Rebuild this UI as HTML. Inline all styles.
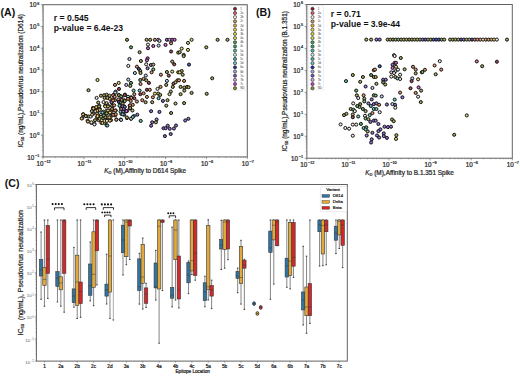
<!DOCTYPE html>
<html><head><meta charset="utf-8"><style>
html,body{margin:0;padding:0;background:#fff;width:520px;height:376px;overflow:hidden}
text.t{stroke:#222;stroke-width:0.22px}
svg{display:block}
text{font-family:"Liberation Sans", sans-serif}
</style></head><body>
<svg width="520" height="376" viewBox="0 0 520 376" font-family='"Liberation Sans", sans-serif'>
<rect width="520" height="376" fill="#ffffff"/>
<defs>
<radialGradient id="gdr"><stop offset="0" stop-color="#ba7d83"/><stop offset="0.5" stop-color="#953741"/><stop offset="1" stop-color="#8c2630"/></radialGradient>
<radialGradient id="grd"><stop offset="0" stop-color="#e5a0a6"/><stop offset="0.5" stop-color="#d76e77"/><stop offset="1" stop-color="#d4616b"/></radialGradient>
<radialGradient id="gwh"><stop offset="0" stop-color="#f4f0ea"/><stop offset="0.5" stop-color="#eee8df"/><stop offset="1" stop-color="#ece6dc"/></radialGradient>
<radialGradient id="gtn"><stop offset="0" stop-color="#dfc29d"/><stop offset="0.5" stop-color="#cda268"/><stop offset="1" stop-color="#c99a5b"/></radialGradient>
<radialGradient id="gor"><stop offset="0" stop-color="#e5af91"/><stop offset="0.5" stop-color="#d78557"/><stop offset="1" stop-color="#d47a48"/></radialGradient>
<radialGradient id="gye"><stop offset="0" stop-color="#f0e294"/><stop offset="0.5" stop-color="#e8d35a"/><stop offset="1" stop-color="#e6cf4c"/></radialGradient>
<radialGradient id="gyg"><stop offset="0" stop-color="#dde2a1"/><stop offset="0.5" stop-color="#cbd36f"/><stop offset="1" stop-color="#c6cf63"/></radialGradient>
<radialGradient id="ggr"><stop offset="0" stop-color="#95c296"/><stop offset="0.5" stop-color="#5da25e"/><stop offset="1" stop-color="#4f9a50"/></radialGradient>
<radialGradient id="gte"><stop offset="0" stop-color="#91d1cc"/><stop offset="0.5" stop-color="#56b9b1"/><stop offset="1" stop-color="#47b3aa"/></radialGradient>
<radialGradient id="glb"><stop offset="0" stop-color="#cbdcf1"/><stop offset="0.5" stop-color="#b0c9ea"/><stop offset="1" stop-color="#a9c4e8"/></radialGradient>
<radialGradient id="gbl"><stop offset="0" stop-color="#7d85c5"/><stop offset="0.5" stop-color="#3843a7"/><stop offset="1" stop-color="#27339f"/></radialGradient>
<radialGradient id="gpu"><stop offset="0" stop-color="#ad96da"/><stop offset="0.5" stop-color="#815ec7"/><stop offset="1" stop-color="#7650c2"/></radialGradient>
<radialGradient id="glv"><stop offset="0" stop-color="#e4c9ee"/><stop offset="0.5" stop-color="#d6ace4"/><stop offset="1" stop-color="#d2a5e2"/></radialGradient>
<radialGradient id="gmg"><stop offset="0" stop-color="#da8eda"/><stop offset="0.5" stop-color="#c751c7"/><stop offset="1" stop-color="#c242c2"/></radialGradient>
<radialGradient id="gol"><stop offset="0" stop-color="#c1be8a"/><stop offset="0.5" stop-color="#a09b4c"/><stop offset="1" stop-color="#98923c"/></radialGradient>
<radialGradient id="gog"><stop offset="0" stop-color="#a9b185"/><stop offset="0.5" stop-color="#7b8744"/><stop offset="1" stop-color="#6f7d34"/></radialGradient>
<radialGradient id="ggo"><stop offset="0" stop-color="#e6ca91"/><stop offset="0.5" stop-color="#d9ad57"/><stop offset="1" stop-color="#d6a648"/></radialGradient>
</defs>
<g stroke="#555555" fill="none">
<line x1="40.9" y1="4.7" x2="43.1" y2="4.7" stroke-width="0.6"/>
<line x1="41.9" y1="19.9" x2="43.1" y2="19.9" stroke-width="0.4"/>
<line x1="41.9" y1="16.07" x2="43.1" y2="16.07" stroke-width="0.4"/>
<line x1="41.9" y1="13.35" x2="43.1" y2="13.35" stroke-width="0.4"/>
<line x1="41.9" y1="11.25" x2="43.1" y2="11.25" stroke-width="0.4"/>
<line x1="41.9" y1="9.52" x2="43.1" y2="9.52" stroke-width="0.4"/>
<line x1="41.9" y1="8.07" x2="43.1" y2="8.07" stroke-width="0.4"/>
<line x1="41.9" y1="6.81" x2="43.1" y2="6.81" stroke-width="0.4"/>
<line x1="41.9" y1="5.69" x2="43.1" y2="5.69" stroke-width="0.4"/>
<line x1="40.9" y1="26.44" x2="43.1" y2="26.44" stroke-width="0.6"/>
<line x1="41.9" y1="41.64" x2="43.1" y2="41.64" stroke-width="0.4"/>
<line x1="41.9" y1="37.81" x2="43.1" y2="37.81" stroke-width="0.4"/>
<line x1="41.9" y1="35.1" x2="43.1" y2="35.1" stroke-width="0.4"/>
<line x1="41.9" y1="32.99" x2="43.1" y2="32.99" stroke-width="0.4"/>
<line x1="41.9" y1="31.27" x2="43.1" y2="31.27" stroke-width="0.4"/>
<line x1="41.9" y1="29.81" x2="43.1" y2="29.81" stroke-width="0.4"/>
<line x1="41.9" y1="28.55" x2="43.1" y2="28.55" stroke-width="0.4"/>
<line x1="41.9" y1="27.44" x2="43.1" y2="27.44" stroke-width="0.4"/>
<line x1="40.9" y1="48.19" x2="43.1" y2="48.19" stroke-width="0.6"/>
<line x1="41.9" y1="63.38" x2="43.1" y2="63.38" stroke-width="0.4"/>
<line x1="41.9" y1="59.55" x2="43.1" y2="59.55" stroke-width="0.4"/>
<line x1="41.9" y1="56.84" x2="43.1" y2="56.84" stroke-width="0.4"/>
<line x1="41.9" y1="54.73" x2="43.1" y2="54.73" stroke-width="0.4"/>
<line x1="41.9" y1="53.01" x2="43.1" y2="53.01" stroke-width="0.4"/>
<line x1="41.9" y1="51.55" x2="43.1" y2="51.55" stroke-width="0.4"/>
<line x1="41.9" y1="50.29" x2="43.1" y2="50.29" stroke-width="0.4"/>
<line x1="41.9" y1="49.18" x2="43.1" y2="49.18" stroke-width="0.4"/>
<line x1="40.9" y1="69.93" x2="43.1" y2="69.93" stroke-width="0.6"/>
<line x1="41.9" y1="85.13" x2="43.1" y2="85.13" stroke-width="0.4"/>
<line x1="41.9" y1="81.3" x2="43.1" y2="81.3" stroke-width="0.4"/>
<line x1="41.9" y1="78.58" x2="43.1" y2="78.58" stroke-width="0.4"/>
<line x1="41.9" y1="76.47" x2="43.1" y2="76.47" stroke-width="0.4"/>
<line x1="41.9" y1="74.75" x2="43.1" y2="74.75" stroke-width="0.4"/>
<line x1="41.9" y1="73.3" x2="43.1" y2="73.3" stroke-width="0.4"/>
<line x1="41.9" y1="72.04" x2="43.1" y2="72.04" stroke-width="0.4"/>
<line x1="41.9" y1="70.92" x2="43.1" y2="70.92" stroke-width="0.4"/>
<line x1="40.9" y1="91.67" x2="43.1" y2="91.67" stroke-width="0.6"/>
<line x1="41.9" y1="106.87" x2="43.1" y2="106.87" stroke-width="0.4"/>
<line x1="41.9" y1="103.04" x2="43.1" y2="103.04" stroke-width="0.4"/>
<line x1="41.9" y1="100.32" x2="43.1" y2="100.32" stroke-width="0.4"/>
<line x1="41.9" y1="98.22" x2="43.1" y2="98.22" stroke-width="0.4"/>
<line x1="41.9" y1="96.5" x2="43.1" y2="96.5" stroke-width="0.4"/>
<line x1="41.9" y1="95.04" x2="43.1" y2="95.04" stroke-width="0.4"/>
<line x1="41.9" y1="93.78" x2="43.1" y2="93.78" stroke-width="0.4"/>
<line x1="41.9" y1="92.67" x2="43.1" y2="92.67" stroke-width="0.4"/>
<line x1="40.9" y1="113.41" x2="43.1" y2="113.41" stroke-width="0.6"/>
<line x1="41.9" y1="128.61" x2="43.1" y2="128.61" stroke-width="0.4"/>
<line x1="41.9" y1="124.78" x2="43.1" y2="124.78" stroke-width="0.4"/>
<line x1="41.9" y1="122.07" x2="43.1" y2="122.07" stroke-width="0.4"/>
<line x1="41.9" y1="119.96" x2="43.1" y2="119.96" stroke-width="0.4"/>
<line x1="41.9" y1="118.24" x2="43.1" y2="118.24" stroke-width="0.4"/>
<line x1="41.9" y1="116.78" x2="43.1" y2="116.78" stroke-width="0.4"/>
<line x1="41.9" y1="115.52" x2="43.1" y2="115.52" stroke-width="0.4"/>
<line x1="41.9" y1="114.41" x2="43.1" y2="114.41" stroke-width="0.4"/>
<line x1="40.9" y1="135.16" x2="43.1" y2="135.16" stroke-width="0.6"/>
<line x1="41.9" y1="150.35" x2="43.1" y2="150.35" stroke-width="0.4"/>
<line x1="41.9" y1="146.53" x2="43.1" y2="146.53" stroke-width="0.4"/>
<line x1="41.9" y1="143.81" x2="43.1" y2="143.81" stroke-width="0.4"/>
<line x1="41.9" y1="141.7" x2="43.1" y2="141.7" stroke-width="0.4"/>
<line x1="41.9" y1="139.98" x2="43.1" y2="139.98" stroke-width="0.4"/>
<line x1="41.9" y1="138.53" x2="43.1" y2="138.53" stroke-width="0.4"/>
<line x1="41.9" y1="137.26" x2="43.1" y2="137.26" stroke-width="0.4"/>
<line x1="41.9" y1="136.15" x2="43.1" y2="136.15" stroke-width="0.4"/>
<line x1="40.9" y1="156.9" x2="43.1" y2="156.9" stroke-width="0.6"/>
<line x1="43.1" y1="156.9" x2="43.1" y2="159.1" stroke-width="0.6"/>
<line x1="55.39" y1="156.9" x2="55.39" y2="158.1" stroke-width="0.4"/>
<line x1="62.59" y1="156.9" x2="62.59" y2="158.1" stroke-width="0.4"/>
<line x1="67.69" y1="156.9" x2="67.69" y2="158.1" stroke-width="0.4"/>
<line x1="71.65" y1="156.9" x2="71.65" y2="158.1" stroke-width="0.4"/>
<line x1="74.88" y1="156.9" x2="74.88" y2="158.1" stroke-width="0.4"/>
<line x1="77.61" y1="156.9" x2="77.61" y2="158.1" stroke-width="0.4"/>
<line x1="79.98" y1="156.9" x2="79.98" y2="158.1" stroke-width="0.4"/>
<line x1="82.07" y1="156.9" x2="82.07" y2="158.1" stroke-width="0.4"/>
<line x1="83.94" y1="156.9" x2="83.94" y2="159.1" stroke-width="0.6"/>
<line x1="96.23" y1="156.9" x2="96.23" y2="158.1" stroke-width="0.4"/>
<line x1="103.43" y1="156.9" x2="103.43" y2="158.1" stroke-width="0.4"/>
<line x1="108.53" y1="156.9" x2="108.53" y2="158.1" stroke-width="0.4"/>
<line x1="112.49" y1="156.9" x2="112.49" y2="158.1" stroke-width="0.4"/>
<line x1="115.72" y1="156.9" x2="115.72" y2="158.1" stroke-width="0.4"/>
<line x1="118.45" y1="156.9" x2="118.45" y2="158.1" stroke-width="0.4"/>
<line x1="120.82" y1="156.9" x2="120.82" y2="158.1" stroke-width="0.4"/>
<line x1="122.91" y1="156.9" x2="122.91" y2="158.1" stroke-width="0.4"/>
<line x1="124.78" y1="156.9" x2="124.78" y2="159.1" stroke-width="0.6"/>
<line x1="137.07" y1="156.9" x2="137.07" y2="158.1" stroke-width="0.4"/>
<line x1="144.27" y1="156.9" x2="144.27" y2="158.1" stroke-width="0.4"/>
<line x1="149.37" y1="156.9" x2="149.37" y2="158.1" stroke-width="0.4"/>
<line x1="153.33" y1="156.9" x2="153.33" y2="158.1" stroke-width="0.4"/>
<line x1="156.56" y1="156.9" x2="156.56" y2="158.1" stroke-width="0.4"/>
<line x1="159.29" y1="156.9" x2="159.29" y2="158.1" stroke-width="0.4"/>
<line x1="161.66" y1="156.9" x2="161.66" y2="158.1" stroke-width="0.4"/>
<line x1="163.75" y1="156.9" x2="163.75" y2="158.1" stroke-width="0.4"/>
<line x1="165.62" y1="156.9" x2="165.62" y2="159.1" stroke-width="0.6"/>
<line x1="177.91" y1="156.9" x2="177.91" y2="158.1" stroke-width="0.4"/>
<line x1="185.11" y1="156.9" x2="185.11" y2="158.1" stroke-width="0.4"/>
<line x1="190.21" y1="156.9" x2="190.21" y2="158.1" stroke-width="0.4"/>
<line x1="194.17" y1="156.9" x2="194.17" y2="158.1" stroke-width="0.4"/>
<line x1="197.4" y1="156.9" x2="197.4" y2="158.1" stroke-width="0.4"/>
<line x1="200.13" y1="156.9" x2="200.13" y2="158.1" stroke-width="0.4"/>
<line x1="202.5" y1="156.9" x2="202.5" y2="158.1" stroke-width="0.4"/>
<line x1="204.59" y1="156.9" x2="204.59" y2="158.1" stroke-width="0.4"/>
<line x1="206.46" y1="156.9" x2="206.46" y2="159.1" stroke-width="0.6"/>
<line x1="218.75" y1="156.9" x2="218.75" y2="158.1" stroke-width="0.4"/>
<line x1="225.95" y1="156.9" x2="225.95" y2="158.1" stroke-width="0.4"/>
<line x1="231.05" y1="156.9" x2="231.05" y2="158.1" stroke-width="0.4"/>
<line x1="235.01" y1="156.9" x2="235.01" y2="158.1" stroke-width="0.4"/>
<line x1="238.24" y1="156.9" x2="238.24" y2="158.1" stroke-width="0.4"/>
<line x1="240.97" y1="156.9" x2="240.97" y2="158.1" stroke-width="0.4"/>
<line x1="243.34" y1="156.9" x2="243.34" y2="158.1" stroke-width="0.4"/>
<line x1="245.43" y1="156.9" x2="245.43" y2="158.1" stroke-width="0.4"/>
<line x1="247.3" y1="156.9" x2="247.3" y2="159.1" stroke-width="0.6"/>
</g>
<text class="t" transform="translate(39.4,7.4) scale(1.0,1)" font-size="6.3" text-anchor="end" fill="#2a2a2a">10<tspan font-size="3.78" dx="0.8" dy="-2.77">6</tspan></text>
<text class="t" transform="translate(39.4,29.14) scale(1.0,1)" font-size="6.3" text-anchor="end" fill="#2a2a2a">10<tspan font-size="3.78" dx="0.8" dy="-2.77">5</tspan></text>
<text class="t" transform="translate(39.4,50.89) scale(1.0,1)" font-size="6.3" text-anchor="end" fill="#2a2a2a">10<tspan font-size="3.78" dx="0.8" dy="-2.77">4</tspan></text>
<text class="t" transform="translate(39.4,72.63) scale(1.0,1)" font-size="6.3" text-anchor="end" fill="#2a2a2a">10<tspan font-size="3.78" dx="0.8" dy="-2.77">3</tspan></text>
<text class="t" transform="translate(39.4,94.37) scale(1.0,1)" font-size="6.3" text-anchor="end" fill="#2a2a2a">10<tspan font-size="3.78" dx="0.8" dy="-2.77">2</tspan></text>
<text class="t" transform="translate(39.4,116.11) scale(1.0,1)" font-size="6.3" text-anchor="end" fill="#2a2a2a">10<tspan font-size="3.78" dx="0.8" dy="-2.77">1</tspan></text>
<text class="t" transform="translate(39.4,137.86) scale(1.0,1)" font-size="6.3" text-anchor="end" fill="#2a2a2a">10<tspan font-size="3.78" dx="0.8" dy="-2.77">0</tspan></text>
<text class="t" transform="translate(39.4,159.6) scale(1.0,1)" font-size="6.3" text-anchor="end" fill="#2a2a2a">10<tspan font-size="3.78" dx="0.8" dy="-2.77">−1</tspan></text>
<text class="t" transform="translate(43.6,165.7) scale(1.0,1)" font-size="6.3" text-anchor="middle" fill="#2a2a2a">10<tspan font-size="3.78" dx="0.8" dy="-2.77">−12</tspan></text>
<text class="t" transform="translate(84.44,165.7) scale(1.0,1)" font-size="6.3" text-anchor="middle" fill="#2a2a2a">10<tspan font-size="3.78" dx="0.8" dy="-2.77">−11</tspan></text>
<text class="t" transform="translate(125.28,165.7) scale(1.0,1)" font-size="6.3" text-anchor="middle" fill="#2a2a2a">10<tspan font-size="3.78" dx="0.8" dy="-2.77">−10</tspan></text>
<text class="t" transform="translate(166.12,165.7) scale(1.0,1)" font-size="6.3" text-anchor="middle" fill="#2a2a2a">10<tspan font-size="3.78" dx="0.8" dy="-2.77">−9</tspan></text>
<text class="t" transform="translate(206.96,165.7) scale(1.0,1)" font-size="6.3" text-anchor="middle" fill="#2a2a2a">10<tspan font-size="3.78" dx="0.8" dy="-2.77">−8</tspan></text>
<text class="t" transform="translate(247.8,165.7) scale(1.0,1)" font-size="6.3" text-anchor="middle" fill="#2a2a2a">10<tspan font-size="3.78" dx="0.8" dy="-2.77">−7</tspan></text>
<g stroke="#161616" stroke-width="1.0">
<circle cx="127" cy="39.8" r="1.55" fill="url(#gol)"/>
<circle cx="146.6" cy="39.8" r="1.55" fill="url(#gol)"/>
<circle cx="150.2" cy="39.8" r="1.55" fill="url(#gol)"/>
<circle cx="154.9" cy="39.8" r="1.55" fill="url(#gor)"/>
<circle cx="158.2" cy="39.8" r="1.55" fill="url(#glv)"/>
<circle cx="159.5" cy="40.9" r="1.55" fill="url(#glb)"/>
<circle cx="166.9" cy="39.8" r="1.55" fill="url(#gpu)"/>
<circle cx="169.5" cy="39.8" r="1.55" fill="url(#glv)"/>
<circle cx="172.2" cy="39.8" r="1.55" fill="url(#gmg)"/>
<circle cx="174.6" cy="39.8" r="1.55" fill="url(#gmg)"/>
<circle cx="131" cy="47.3" r="1.55" fill="url(#ggr)"/>
<circle cx="139.6" cy="52.2" r="1.55" fill="url(#gol)"/>
<circle cx="148" cy="44.6" r="1.55" fill="url(#gwh)"/>
<circle cx="148" cy="48.2" r="1.55" fill="url(#gmg)"/>
<circle cx="153.3" cy="46" r="1.55" fill="url(#gmg)"/>
<circle cx="158.6" cy="45.6" r="1.55" fill="url(#glb)"/>
<circle cx="165.5" cy="44.9" r="1.55" fill="url(#gmg)"/>
<circle cx="171.1" cy="43.2" r="1.55" fill="url(#gor)"/>
<circle cx="171.1" cy="51.5" r="1.55" fill="url(#gdr)"/>
<circle cx="178.2" cy="52.6" r="1.55" fill="url(#gol)"/>
<circle cx="191.6" cy="39.8" r="1.55" fill="url(#gyg)"/>
<circle cx="188" cy="42.9" r="1.55" fill="url(#gyg)"/>
<circle cx="181.7" cy="48.6" r="1.55" fill="url(#gye)"/>
<circle cx="188" cy="49.9" r="1.55" fill="url(#gye)"/>
<circle cx="206.3" cy="47.3" r="1.55" fill="url(#gol)"/>
<circle cx="217.6" cy="39.8" r="1.55" fill="url(#gol)"/>
<circle cx="227.5" cy="39.8" r="1.55" fill="url(#gol)"/>
<circle cx="179.7" cy="52.2" r="1.55" fill="url(#gol)"/>
<circle cx="183.7" cy="54.9" r="1.55" fill="url(#ggr)"/>
<circle cx="97.5" cy="80" r="1.55" fill="url(#gye)"/>
<circle cx="88.5" cy="90.2" r="1.55" fill="url(#gol)"/>
<circle cx="129.4" cy="59" r="1.55" fill="url(#glb)"/>
<circle cx="140.9" cy="61" r="1.55" fill="url(#gol)"/>
<circle cx="147.6" cy="58.3" r="1.55" fill="url(#gmg)"/>
<circle cx="146.9" cy="60.3" r="1.55" fill="url(#gmg)"/>
<circle cx="172.2" cy="61.6" r="1.55" fill="url(#gol)"/>
<circle cx="174.2" cy="64.3" r="1.55" fill="url(#gdr)"/>
<circle cx="128.3" cy="65.9" r="1.55" fill="url(#gwh)"/>
<circle cx="136.9" cy="66.7" r="1.55" fill="url(#gor)"/>
<circle cx="138.9" cy="69" r="1.55" fill="url(#gbl)"/>
<circle cx="140.3" cy="71" r="1.55" fill="url(#gol)"/>
<circle cx="146.2" cy="64.3" r="1.55" fill="url(#gwh)"/>
<circle cx="147.6" cy="68.3" r="1.55" fill="url(#gpu)"/>
<circle cx="150.9" cy="65" r="1.55" fill="url(#gpu)"/>
<circle cx="153.3" cy="64.6" r="1.55" fill="url(#gol)"/>
<circle cx="153.3" cy="69.4" r="1.55" fill="url(#ggr)"/>
<circle cx="151.6" cy="72.3" r="1.55" fill="url(#gor)"/>
<circle cx="134.9" cy="73" r="1.55" fill="url(#glb)"/>
<circle cx="140.5" cy="73" r="1.55" fill="url(#gol)"/>
<circle cx="160.9" cy="74.7" r="1.55" fill="url(#gor)"/>
<circle cx="166.9" cy="72" r="1.55" fill="url(#gol)"/>
<circle cx="172.2" cy="71.6" r="1.55" fill="url(#gyg)"/>
<circle cx="168.8" cy="75.6" r="1.55" fill="url(#gdr)"/>
<circle cx="178.2" cy="72.3" r="1.55" fill="url(#gol)"/>
<circle cx="145.8" cy="75.6" r="1.55" fill="url(#glb)"/>
<circle cx="128.3" cy="79.6" r="1.55" fill="url(#glb)"/>
<circle cx="131" cy="82.9" r="1.55" fill="url(#ggr)"/>
<circle cx="140.3" cy="80" r="1.55" fill="url(#ggr)"/>
<circle cx="143.6" cy="78.9" r="1.55" fill="url(#gor)"/>
<circle cx="146.2" cy="80.3" r="1.55" fill="url(#gol)"/>
<circle cx="140.5" cy="84" r="1.55" fill="url(#gor)"/>
<circle cx="148.9" cy="82.9" r="1.55" fill="url(#gdr)"/>
<circle cx="126.3" cy="84.9" r="1.55" fill="url(#glv)"/>
<circle cx="130.3" cy="85.9" r="1.55" fill="url(#gol)"/>
<circle cx="115" cy="84.9" r="1.55" fill="url(#gor)"/>
<circle cx="118.7" cy="82.9" r="1.55" fill="url(#gye)"/>
<circle cx="119" cy="88.9" r="1.55" fill="url(#gdr)"/>
<circle cx="166.9" cy="80.9" r="1.55" fill="url(#glb)"/>
<circle cx="166.2" cy="84.9" r="1.55" fill="url(#gol)"/>
<circle cx="173.5" cy="83.6" r="1.55" fill="url(#gdr)"/>
<circle cx="175.5" cy="82.3" r="1.55" fill="url(#gol)"/>
<circle cx="177.5" cy="80.3" r="1.55" fill="url(#gor)"/>
<circle cx="172.8" cy="86.9" r="1.55" fill="url(#gol)"/>
<circle cx="157.5" cy="88.9" r="1.55" fill="url(#gwh)"/>
<circle cx="160.5" cy="86.9" r="1.55" fill="url(#gor)"/>
<circle cx="115.7" cy="91.6" r="1.55" fill="url(#gte)"/>
<circle cx="133.6" cy="90.6" r="1.55" fill="url(#gte)"/>
<circle cx="139.6" cy="90.6" r="1.55" fill="url(#gte)"/>
<circle cx="146.9" cy="89.8" r="1.55" fill="url(#gdr)"/>
<circle cx="149.8" cy="89.8" r="1.55" fill="url(#gor)"/>
<circle cx="140.3" cy="94.2" r="1.55" fill="url(#gdr)"/>
<circle cx="143.6" cy="93.3" r="1.55" fill="url(#gor)"/>
<circle cx="134.3" cy="94.2" r="1.55" fill="url(#gor)"/>
<circle cx="154.9" cy="93.6" r="1.55" fill="url(#gye)"/>
<circle cx="158.2" cy="93.6" r="1.55" fill="url(#gol)"/>
<circle cx="160.2" cy="94.9" r="1.55" fill="url(#gol)"/>
<circle cx="170.8" cy="91.6" r="1.55" fill="url(#gol)"/>
<circle cx="169.5" cy="94.2" r="1.55" fill="url(#gyg)"/>
<circle cx="113.7" cy="94.9" r="1.55" fill="url(#gor)"/>
<circle cx="118.7" cy="94.9" r="1.55" fill="url(#gol)"/>
<circle cx="121.6" cy="96.9" r="1.55" fill="url(#gor)"/>
<circle cx="125" cy="94.6" r="1.55" fill="url(#gdr)"/>
<circle cx="128.3" cy="97.3" r="1.55" fill="url(#glb)"/>
<circle cx="131" cy="97.3" r="1.55" fill="url(#gor)"/>
<circle cx="134.3" cy="98.2" r="1.55" fill="url(#gdr)"/>
<circle cx="146.9" cy="96.9" r="1.55" fill="url(#gor)"/>
<circle cx="152.9" cy="97.3" r="1.55" fill="url(#gor)"/>
<circle cx="158.6" cy="98.2" r="1.55" fill="url(#gte)"/>
<circle cx="167.5" cy="100.2" r="1.55" fill="url(#gol)"/>
<circle cx="162.9" cy="100.9" r="1.55" fill="url(#gpu)"/>
<circle cx="142.3" cy="100.2" r="1.55" fill="url(#gor)"/>
<circle cx="145.6" cy="102.2" r="1.55" fill="url(#gol)"/>
<circle cx="152.2" cy="102.2" r="1.55" fill="url(#gol)"/>
<circle cx="175.5" cy="103.5" r="1.55" fill="url(#gol)"/>
<circle cx="119" cy="100.9" r="1.55" fill="url(#gog)"/>
<circle cx="121.6" cy="100.9" r="1.55" fill="url(#gol)"/>
<circle cx="124.3" cy="100.2" r="1.55" fill="url(#ggr)"/>
<circle cx="130.7" cy="100.9" r="1.55" fill="url(#gor)"/>
<circle cx="136.9" cy="101.5" r="1.55" fill="url(#gor)"/>
<circle cx="111.7" cy="102.2" r="1.55" fill="url(#gpu)"/>
<circle cx="115" cy="100.2" r="1.55" fill="url(#gor)"/>
<circle cx="183.7" cy="56.1" r="1.55" fill="url(#gol)"/>
<circle cx="189" cy="64.6" r="1.55" fill="url(#gbl)"/>
<circle cx="181.7" cy="71" r="1.55" fill="url(#gol)"/>
<circle cx="179.7" cy="72.3" r="1.55" fill="url(#gye)"/>
<circle cx="182.7" cy="74.7" r="1.55" fill="url(#gol)"/>
<circle cx="212.2" cy="78.3" r="1.55" fill="url(#gol)"/>
<circle cx="179" cy="80.3" r="1.55" fill="url(#gor)"/>
<circle cx="184.1" cy="80.9" r="1.55" fill="url(#gor)"/>
<circle cx="180.6" cy="86.9" r="1.55" fill="url(#gol)"/>
<circle cx="184.3" cy="87.6" r="1.55" fill="url(#gol)"/>
<circle cx="187" cy="86.9" r="1.55" fill="url(#gol)"/>
<circle cx="188.6" cy="87.2" r="1.55" fill="url(#gol)"/>
<circle cx="184.3" cy="90.6" r="1.55" fill="url(#gol)"/>
<circle cx="191.6" cy="92.9" r="1.55" fill="url(#gol)"/>
<circle cx="180.6" cy="94.2" r="1.55" fill="url(#gol)"/>
<circle cx="206.7" cy="93.8" r="1.55" fill="url(#gol)"/>
<circle cx="184.1" cy="103.1" r="1.55" fill="url(#gol)"/>
<circle cx="112.4" cy="106.4" r="1.55" fill="url(#gol)"/>
<circle cx="113.1" cy="110.5" r="1.55" fill="url(#gor)"/>
<circle cx="115.8" cy="110.5" r="1.55" fill="url(#gor)"/>
<circle cx="112.4" cy="114.7" r="1.55" fill="url(#gor)"/>
<circle cx="115.1" cy="115.4" r="1.55" fill="url(#gor)"/>
<circle cx="111" cy="120.2" r="1.55" fill="url(#gol)"/>
<circle cx="116.5" cy="119.5" r="1.55" fill="url(#gor)"/>
<circle cx="120.7" cy="119.5" r="1.55" fill="url(#glb)"/>
<circle cx="120.7" cy="106.4" r="1.55" fill="url(#gte)"/>
<circle cx="124.1" cy="106.4" r="1.55" fill="url(#gpu)"/>
<circle cx="129.7" cy="105.7" r="1.55" fill="url(#gor)"/>
<circle cx="122.1" cy="111.2" r="1.55" fill="url(#gte)"/>
<circle cx="124.8" cy="111.2" r="1.55" fill="url(#gpu)"/>
<circle cx="126.9" cy="111.2" r="1.55" fill="url(#gmg)"/>
<circle cx="121.4" cy="114" r="1.55" fill="url(#gor)"/>
<circle cx="124.1" cy="114.7" r="1.55" fill="url(#gpu)"/>
<circle cx="129.7" cy="108.5" r="1.55" fill="url(#gol)"/>
<circle cx="132.4" cy="110.5" r="1.55" fill="url(#gol)"/>
<circle cx="126.9" cy="118.1" r="1.55" fill="url(#gol)"/>
<circle cx="131" cy="118.8" r="1.55" fill="url(#gwh)"/>
<circle cx="133.8" cy="116.1" r="1.55" fill="url(#gte)"/>
<circle cx="137.3" cy="114.7" r="1.55" fill="url(#gpu)"/>
<circle cx="140.7" cy="120.9" r="1.55" fill="url(#gte)"/>
<circle cx="151.1" cy="111.2" r="1.55" fill="url(#gpu)"/>
<circle cx="159.4" cy="111.9" r="1.55" fill="url(#gpu)"/>
<circle cx="166.3" cy="105.7" r="1.55" fill="url(#gol)"/>
<circle cx="171.1" cy="113" r="1.55" fill="url(#gol)"/>
<circle cx="156.6" cy="119.5" r="1.55" fill="url(#gpu)"/>
<circle cx="155.9" cy="122.3" r="1.55" fill="url(#gol)"/>
<circle cx="152.2" cy="122.3" r="1.55" fill="url(#gpu)"/>
<circle cx="151.1" cy="125.7" r="1.55" fill="url(#gpu)"/>
<circle cx="163.5" cy="128.2" r="1.55" fill="url(#gpu)"/>
<circle cx="165.6" cy="128.2" r="1.55" fill="url(#gpu)"/>
<circle cx="167.7" cy="125.7" r="1.55" fill="url(#gpu)"/>
<circle cx="169.7" cy="128.8" r="1.55" fill="url(#gpu)"/>
<circle cx="173.9" cy="128.5" r="1.55" fill="url(#gpu)"/>
<circle cx="176" cy="125.5" r="1.55" fill="url(#gpu)"/>
<circle cx="164.9" cy="136.1" r="1.55" fill="url(#gpu)"/>
<circle cx="170.7" cy="134" r="1.55" fill="url(#gpu)"/>
<circle cx="185.2" cy="120.5" r="1.55" fill="url(#gpu)"/>
<circle cx="188.4" cy="118.8" r="1.55" fill="url(#gpu)"/>
<circle cx="96.6" cy="97.9" r="1.55" fill="url(#gwh)"/>
<circle cx="100.9" cy="95.7" r="1.55" fill="url(#gol)"/>
<circle cx="104.1" cy="95.2" r="1.55" fill="url(#gol)"/>
<circle cx="106.7" cy="94.7" r="1.55" fill="url(#gol)"/>
<circle cx="109.4" cy="95.7" r="1.55" fill="url(#gol)"/>
<circle cx="113.1" cy="95.2" r="1.55" fill="url(#gor)"/>
<circle cx="115.2" cy="92.5" r="1.55" fill="url(#glb)"/>
<circle cx="119" cy="95.2" r="1.55" fill="url(#gol)"/>
<circle cx="121.1" cy="96.3" r="1.55" fill="url(#ggr)"/>
<circle cx="124.8" cy="95.2" r="1.55" fill="url(#gdr)"/>
<circle cx="128" cy="96.8" r="1.55" fill="url(#glb)"/>
<circle cx="131.2" cy="97.9" r="1.55" fill="url(#gor)"/>
<circle cx="104.6" cy="97.9" r="1.55" fill="url(#gol)"/>
<circle cx="107.3" cy="97.9" r="1.55" fill="url(#gol)"/>
<circle cx="109.9" cy="98.9" r="1.55" fill="url(#ggo)"/>
<circle cx="112.6" cy="99.4" r="1.55" fill="url(#gor)"/>
<circle cx="114.7" cy="96.8" r="1.55" fill="url(#gor)"/>
<circle cx="98.2" cy="102.6" r="1.55" fill="url(#gol)"/>
<circle cx="103.5" cy="102.1" r="1.55" fill="url(#gwh)"/>
<circle cx="106.7" cy="103.2" r="1.55" fill="url(#gye)"/>
<circle cx="111.5" cy="102.1" r="1.55" fill="url(#gpu)"/>
<circle cx="113.1" cy="100.5" r="1.55" fill="url(#gor)"/>
<circle cx="118.4" cy="99.4" r="1.55" fill="url(#gor)"/>
<circle cx="121.6" cy="100" r="1.55" fill="url(#gor)"/>
<circle cx="124.8" cy="101" r="1.55" fill="url(#gol)"/>
<circle cx="128" cy="98.9" r="1.55" fill="url(#gor)"/>
<circle cx="119" cy="102.1" r="1.55" fill="url(#gbl)"/>
<circle cx="121.1" cy="102.6" r="1.55" fill="url(#ggr)"/>
<circle cx="122.7" cy="103.7" r="1.55" fill="url(#gol)"/>
<circle cx="99.3" cy="105.8" r="1.55" fill="url(#gol)"/>
<circle cx="105.1" cy="105.8" r="1.55" fill="url(#gol)"/>
<circle cx="107.8" cy="105.3" r="1.55" fill="url(#gol)"/>
<circle cx="112" cy="105.8" r="1.55" fill="url(#gog)"/>
<circle cx="114.2" cy="105.3" r="1.55" fill="url(#gor)"/>
<circle cx="119.5" cy="105.8" r="1.55" fill="url(#gte)"/>
<circle cx="122.7" cy="106.4" r="1.55" fill="url(#gpu)"/>
<circle cx="124.8" cy="106.9" r="1.55" fill="url(#gpu)"/>
<circle cx="130.1" cy="105.3" r="1.55" fill="url(#gor)"/>
<circle cx="132.8" cy="104.8" r="1.55" fill="url(#gor)"/>
<circle cx="92.9" cy="108" r="1.55" fill="url(#gol)"/>
<circle cx="95.6" cy="108" r="1.55" fill="url(#gol)"/>
<circle cx="97.7" cy="107.4" r="1.55" fill="url(#gol)"/>
<circle cx="99.8" cy="109" r="1.55" fill="url(#ggo)"/>
<circle cx="112" cy="109" r="1.55" fill="url(#gor)"/>
<circle cx="115.2" cy="110.6" r="1.55" fill="url(#gor)"/>
<circle cx="121.1" cy="109" r="1.55" fill="url(#gor)"/>
<circle cx="123.7" cy="109" r="1.55" fill="url(#gpu)"/>
<circle cx="130.1" cy="108" r="1.55" fill="url(#gol)"/>
<circle cx="91.8" cy="111.1" r="1.55" fill="url(#gol)"/>
<circle cx="95" cy="111.1" r="1.55" fill="url(#gwh)"/>
<circle cx="98.7" cy="110.6" r="1.55" fill="url(#gol)"/>
<circle cx="103.5" cy="111.7" r="1.55" fill="url(#ggr)"/>
<circle cx="106.7" cy="110.6" r="1.55" fill="url(#ggo)"/>
<circle cx="109.4" cy="110.6" r="1.55" fill="url(#ggo)"/>
<circle cx="120.6" cy="111.7" r="1.55" fill="url(#gte)"/>
<circle cx="123.2" cy="111.7" r="1.55" fill="url(#gpu)"/>
<circle cx="126.4" cy="111.1" r="1.55" fill="url(#gmg)"/>
<circle cx="93.4" cy="113.8" r="1.55" fill="url(#gol)"/>
<circle cx="97.1" cy="113.3" r="1.55" fill="url(#gol)"/>
<circle cx="100.9" cy="114.9" r="1.55" fill="url(#gwh)"/>
<circle cx="103.5" cy="115.4" r="1.55" fill="url(#ggo)"/>
<circle cx="106.2" cy="113.8" r="1.55" fill="url(#ggr)"/>
<circle cx="109.9" cy="113.3" r="1.55" fill="url(#ggo)"/>
<circle cx="113.1" cy="114.9" r="1.55" fill="url(#gor)"/>
<circle cx="115.8" cy="114.3" r="1.55" fill="url(#gor)"/>
<circle cx="122.7" cy="114.3" r="1.55" fill="url(#gte)"/>
<circle cx="83.3" cy="114.3" r="1.55" fill="url(#ggo)"/>
<circle cx="82.3" cy="118.1" r="1.55" fill="url(#ggo)"/>
<circle cx="86" cy="115.9" r="1.55" fill="url(#ggo)"/>
<circle cx="88.6" cy="116.5" r="1.55" fill="url(#gog)"/>
<circle cx="90.8" cy="116.5" r="1.55" fill="url(#gwh)"/>
<circle cx="97.1" cy="117" r="1.55" fill="url(#gol)"/>
<circle cx="99.8" cy="117.5" r="1.55" fill="url(#ggo)"/>
<circle cx="103" cy="118.1" r="1.55" fill="url(#ggr)"/>
<circle cx="105.1" cy="117" r="1.55" fill="url(#ggo)"/>
<circle cx="107.8" cy="117.5" r="1.55" fill="url(#ggo)"/>
<circle cx="110.4" cy="117.5" r="1.55" fill="url(#ggo)"/>
<circle cx="126.9" cy="117.5" r="1.55" fill="url(#gol)"/>
<circle cx="131.2" cy="118.6" r="1.55" fill="url(#gwh)"/>
<circle cx="132.8" cy="117" r="1.55" fill="url(#gte)"/>
<circle cx="87.6" cy="120.7" r="1.55" fill="url(#ggo)"/>
<circle cx="95" cy="120.2" r="1.55" fill="url(#gol)"/>
<circle cx="98.7" cy="120.2" r="1.55" fill="url(#ggo)"/>
<circle cx="106.7" cy="120.2" r="1.55" fill="url(#gwh)"/>
<circle cx="109.9" cy="120.7" r="1.55" fill="url(#ggo)"/>
<circle cx="116.3" cy="119.7" r="1.55" fill="url(#gor)"/>
<circle cx="121.1" cy="119.9" r="1.55" fill="url(#glb)"/>
<circle cx="91.3" cy="122.9" r="1.55" fill="url(#gwh)"/>
<circle cx="94.5" cy="123.9" r="1.55" fill="url(#gwh)"/>
<circle cx="101.4" cy="122.9" r="1.55" fill="url(#ggo)"/>
<circle cx="104.6" cy="122.9" r="1.55" fill="url(#ggo)"/>
<circle cx="106.7" cy="125.2" r="1.55" fill="url(#gte)"/>
<circle cx="83.1" cy="114.4" r="1.55" fill="url(#ggo)"/>
<circle cx="81.7" cy="118.5" r="1.55" fill="url(#ggo)"/>
<circle cx="85.8" cy="116.1" r="1.55" fill="url(#gol)"/>
<circle cx="87.9" cy="121.6" r="1.55" fill="url(#ggo)"/>
<circle cx="91.4" cy="122.3" r="1.55" fill="url(#gwh)"/>
<circle cx="94.4" cy="124.4" r="1.55" fill="url(#gwh)"/>
<circle cx="92.1" cy="114.7" r="1.55" fill="url(#ggo)"/>
<circle cx="93.4" cy="108.5" r="1.55" fill="url(#ggo)"/>
<circle cx="96.2" cy="107.1" r="1.55" fill="url(#ggo)"/>
<circle cx="99" cy="106.4" r="1.55" fill="url(#gol)"/>
<circle cx="95.5" cy="111.2" r="1.55" fill="url(#gwh)"/>
<circle cx="97.6" cy="110.5" r="1.55" fill="url(#ggo)"/>
<circle cx="99.7" cy="109.8" r="1.55" fill="url(#ggo)"/>
<circle cx="105.2" cy="106.4" r="1.55" fill="url(#gye)"/>
<circle cx="108" cy="106.4" r="1.55" fill="url(#gol)"/>
<circle cx="97.6" cy="116.1" r="1.55" fill="url(#gye)"/>
<circle cx="99.7" cy="118.8" r="1.55" fill="url(#ggo)"/>
<circle cx="101" cy="116.7" r="1.55" fill="url(#gol)"/>
<circle cx="102.4" cy="112.6" r="1.55" fill="url(#gte)"/>
<circle cx="103.8" cy="115.4" r="1.55" fill="url(#ggr)"/>
<circle cx="106.6" cy="113.3" r="1.55" fill="url(#gol)"/>
<circle cx="108" cy="110.5" r="1.55" fill="url(#ggo)"/>
<circle cx="110" cy="112.6" r="1.55" fill="url(#gye)"/>
<circle cx="102.4" cy="123" r="1.55" fill="url(#ggo)"/>
<circle cx="104.5" cy="120.9" r="1.55" fill="url(#gye)"/>
<circle cx="106.9" cy="120.9" r="1.55" fill="url(#gwh)"/>
<circle cx="107.3" cy="125.5" r="1.55" fill="url(#gte)"/>
<circle cx="109.3" cy="117.4" r="1.55" fill="url(#ggo)"/>
</g>
<rect x="231" y="5.4" width="15.6" height="84.8" fill="#fff" fill-opacity="0.8" stroke="#dddddd" stroke-width="0.5" rx="0.8"/>
<g stroke="#1a1a1a" stroke-width="0.6">
<circle cx="235" cy="8.8" r="1.6" fill="#8c1d2c"/>
<circle cx="235" cy="12.98" r="1.6" fill="#d4616b"/>
<circle cx="235" cy="17.16" r="1.6" fill="#f3ebe3"/>
<circle cx="235" cy="21.34" r="1.6" fill="#c99a5b"/>
<circle cx="235" cy="25.52" r="1.6" fill="#e2ae3e"/>
<circle cx="235" cy="29.7" r="1.6" fill="#e9cf4f"/>
<circle cx="235" cy="33.88" r="1.6" fill="#ddd246"/>
<circle cx="235" cy="38.06" r="1.6" fill="#c9d265"/>
<circle cx="235" cy="42.24" r="1.6" fill="#4f9a4f"/>
<circle cx="235" cy="46.42" r="1.6" fill="#3e9e6c"/>
<circle cx="235" cy="50.6" r="1.6" fill="#4db6a1"/>
<circle cx="235" cy="54.78" r="1.6" fill="#c6ecec"/>
<circle cx="235" cy="58.96" r="1.6" fill="#52a89f"/>
<circle cx="235" cy="63.14" r="1.6" fill="#74c1c8"/>
<circle cx="235" cy="67.32" r="1.6" fill="#25309e"/>
<circle cx="235" cy="71.5" r="1.6" fill="#a3a3e2"/>
<circle cx="235" cy="75.68" r="1.6" fill="#7552c1"/>
<circle cx="235" cy="79.86" r="1.6" fill="#d3a4e2"/>
<circle cx="235" cy="84.04" r="1.6" fill="#c441c4"/>
<circle cx="235" cy="88.22" r="1.6" fill="#8f8f34"/>
</g>
<text x="240.2" y="9.8" font-size="3.0" fill="#3a3a3a">1</text>
<text x="240.2" y="13.98" font-size="3.0" fill="#3a3a3a">2a</text>
<text x="240.2" y="18.16" font-size="3.0" fill="#3a3a3a">2b</text>
<text x="240.2" y="22.34" font-size="3.0" fill="#3a3a3a">2c</text>
<text x="240.2" y="26.52" font-size="3.0" fill="#3a3a3a">2d</text>
<text x="240.2" y="30.7" font-size="3.0" fill="#3a3a3a">3a</text>
<text x="240.2" y="34.88" font-size="3.0" fill="#3a3a3a">3b</text>
<text x="240.2" y="39.06" font-size="3.0" fill="#3a3a3a">4a</text>
<text x="240.2" y="43.24" font-size="3.0" fill="#3a3a3a">4b</text>
<text x="240.2" y="47.42" font-size="3.0" fill="#3a3a3a">4c</text>
<text x="240.2" y="51.6" font-size="3.0" fill="#3a3a3a">5a</text>
<text x="240.2" y="55.78" font-size="3.0" fill="#3a3a3a">5b</text>
<text x="240.2" y="59.96" font-size="3.0" fill="#3a3a3a">5c</text>
<text x="240.2" y="64.14" font-size="3.0" fill="#3a3a3a">5d</text>
<text x="240.2" y="68.32" font-size="3.0" fill="#3a3a3a">6a</text>
<text x="240.2" y="72.5" font-size="3.0" fill="#3a3a3a">6b</text>
<text x="240.2" y="76.68" font-size="3.0" fill="#3a3a3a">7a</text>
<text x="240.2" y="80.86" font-size="3.0" fill="#3a3a3a">7b</text>
<text x="240.2" y="85.04" font-size="3.0" fill="#3a3a3a">7c</text>
<text x="240.2" y="89.22" font-size="3.0" fill="#3a3a3a">ND</text>
<rect x="43.1" y="4.7" width="204.2" height="152.2" fill="none" stroke="#626262" stroke-width="1.0"/>
<text x="53.8" y="20.8" font-size="8.65" text-anchor="start" font-weight="bold" fill="#111" >r = 0.545</text>
<text x="53.8" y="31" font-size="8.65" text-anchor="start" font-weight="bold" fill="#111" >p-value = 6.4e-23</text>
<text class="t" x="145.2" y="173" font-size="6.45" text-anchor="middle" font-weight="normal" fill="#2a2a2a" ><tspan font-style="italic">K</tspan><tspan font-size="4" dy="1.2">D</tspan><tspan dy="-1.2"> (M),Affinity to D614 Spike</tspan></text>
<text class="t" x="0" y="0" font-size="6.45" text-anchor="middle" fill="#2a2a2a" transform="translate(22.8,80.8) rotate(-90)"><tspan font-style="italic">IC</tspan><tspan font-size="4" dy="1.2">50</tspan><tspan dy="-1.2"> (ng/mL),Pseudovirus neutralization (D614)</tspan></text>
<text x="0.6" y="16.4" font-size="10.6" text-anchor="start" font-weight="bold" fill="#111" >(A)</text>
<g stroke="#555555" fill="none">
<line x1="304.65" y1="4.5" x2="306.85" y2="4.5" stroke-width="0.6"/>
<line x1="305.65" y1="19.85" x2="306.85" y2="19.85" stroke-width="0.4"/>
<line x1="305.65" y1="15.98" x2="306.85" y2="15.98" stroke-width="0.4"/>
<line x1="305.65" y1="13.24" x2="306.85" y2="13.24" stroke-width="0.4"/>
<line x1="305.65" y1="11.11" x2="306.85" y2="11.11" stroke-width="0.4"/>
<line x1="305.65" y1="9.37" x2="306.85" y2="9.37" stroke-width="0.4"/>
<line x1="305.65" y1="7.9" x2="306.85" y2="7.9" stroke-width="0.4"/>
<line x1="305.65" y1="6.63" x2="306.85" y2="6.63" stroke-width="0.4"/>
<line x1="305.65" y1="5.5" x2="306.85" y2="5.5" stroke-width="0.4"/>
<line x1="304.65" y1="26.46" x2="306.85" y2="26.46" stroke-width="0.6"/>
<line x1="305.65" y1="41.8" x2="306.85" y2="41.8" stroke-width="0.4"/>
<line x1="305.65" y1="37.94" x2="306.85" y2="37.94" stroke-width="0.4"/>
<line x1="305.65" y1="35.19" x2="306.85" y2="35.19" stroke-width="0.4"/>
<line x1="305.65" y1="33.07" x2="306.85" y2="33.07" stroke-width="0.4"/>
<line x1="305.65" y1="31.33" x2="306.85" y2="31.33" stroke-width="0.4"/>
<line x1="305.65" y1="29.86" x2="306.85" y2="29.86" stroke-width="0.4"/>
<line x1="305.65" y1="28.59" x2="306.85" y2="28.59" stroke-width="0.4"/>
<line x1="305.65" y1="27.46" x2="306.85" y2="27.46" stroke-width="0.4"/>
<line x1="304.65" y1="48.41" x2="306.85" y2="48.41" stroke-width="0.6"/>
<line x1="305.65" y1="63.76" x2="306.85" y2="63.76" stroke-width="0.4"/>
<line x1="305.65" y1="59.9" x2="306.85" y2="59.9" stroke-width="0.4"/>
<line x1="305.65" y1="57.15" x2="306.85" y2="57.15" stroke-width="0.4"/>
<line x1="305.65" y1="55.02" x2="306.85" y2="55.02" stroke-width="0.4"/>
<line x1="305.65" y1="53.29" x2="306.85" y2="53.29" stroke-width="0.4"/>
<line x1="305.65" y1="51.82" x2="306.85" y2="51.82" stroke-width="0.4"/>
<line x1="305.65" y1="50.54" x2="306.85" y2="50.54" stroke-width="0.4"/>
<line x1="305.65" y1="49.42" x2="306.85" y2="49.42" stroke-width="0.4"/>
<line x1="304.65" y1="70.37" x2="306.85" y2="70.37" stroke-width="0.6"/>
<line x1="305.65" y1="85.72" x2="306.85" y2="85.72" stroke-width="0.4"/>
<line x1="305.65" y1="81.85" x2="306.85" y2="81.85" stroke-width="0.4"/>
<line x1="305.65" y1="79.11" x2="306.85" y2="79.11" stroke-width="0.4"/>
<line x1="305.65" y1="76.98" x2="306.85" y2="76.98" stroke-width="0.4"/>
<line x1="305.65" y1="75.24" x2="306.85" y2="75.24" stroke-width="0.4"/>
<line x1="305.65" y1="73.77" x2="306.85" y2="73.77" stroke-width="0.4"/>
<line x1="305.65" y1="72.5" x2="306.85" y2="72.5" stroke-width="0.4"/>
<line x1="305.65" y1="71.38" x2="306.85" y2="71.38" stroke-width="0.4"/>
<line x1="304.65" y1="92.33" x2="306.85" y2="92.33" stroke-width="0.6"/>
<line x1="305.65" y1="107.68" x2="306.85" y2="107.68" stroke-width="0.4"/>
<line x1="305.65" y1="103.81" x2="306.85" y2="103.81" stroke-width="0.4"/>
<line x1="305.65" y1="101.07" x2="306.85" y2="101.07" stroke-width="0.4"/>
<line x1="305.65" y1="98.94" x2="306.85" y2="98.94" stroke-width="0.4"/>
<line x1="305.65" y1="97.2" x2="306.85" y2="97.2" stroke-width="0.4"/>
<line x1="305.65" y1="95.73" x2="306.85" y2="95.73" stroke-width="0.4"/>
<line x1="305.65" y1="94.46" x2="306.85" y2="94.46" stroke-width="0.4"/>
<line x1="305.65" y1="93.33" x2="306.85" y2="93.33" stroke-width="0.4"/>
<line x1="304.65" y1="114.29" x2="306.85" y2="114.29" stroke-width="0.6"/>
<line x1="305.65" y1="129.63" x2="306.85" y2="129.63" stroke-width="0.4"/>
<line x1="305.65" y1="125.77" x2="306.85" y2="125.77" stroke-width="0.4"/>
<line x1="305.65" y1="123.02" x2="306.85" y2="123.02" stroke-width="0.4"/>
<line x1="305.65" y1="120.9" x2="306.85" y2="120.9" stroke-width="0.4"/>
<line x1="305.65" y1="119.16" x2="306.85" y2="119.16" stroke-width="0.4"/>
<line x1="305.65" y1="117.69" x2="306.85" y2="117.69" stroke-width="0.4"/>
<line x1="305.65" y1="116.41" x2="306.85" y2="116.41" stroke-width="0.4"/>
<line x1="305.65" y1="115.29" x2="306.85" y2="115.29" stroke-width="0.4"/>
<line x1="304.65" y1="136.24" x2="306.85" y2="136.24" stroke-width="0.6"/>
<line x1="305.65" y1="151.59" x2="306.85" y2="151.59" stroke-width="0.4"/>
<line x1="305.65" y1="147.72" x2="306.85" y2="147.72" stroke-width="0.4"/>
<line x1="305.65" y1="144.98" x2="306.85" y2="144.98" stroke-width="0.4"/>
<line x1="305.65" y1="142.85" x2="306.85" y2="142.85" stroke-width="0.4"/>
<line x1="305.65" y1="141.11" x2="306.85" y2="141.11" stroke-width="0.4"/>
<line x1="305.65" y1="139.64" x2="306.85" y2="139.64" stroke-width="0.4"/>
<line x1="305.65" y1="138.37" x2="306.85" y2="138.37" stroke-width="0.4"/>
<line x1="305.65" y1="137.25" x2="306.85" y2="137.25" stroke-width="0.4"/>
<line x1="304.65" y1="158.2" x2="306.85" y2="158.2" stroke-width="0.6"/>
<line x1="306.85" y1="158.2" x2="306.85" y2="160.4" stroke-width="0.6"/>
<line x1="319.22" y1="158.2" x2="319.22" y2="159.4" stroke-width="0.4"/>
<line x1="326.45" y1="158.2" x2="326.45" y2="159.4" stroke-width="0.4"/>
<line x1="331.59" y1="158.2" x2="331.59" y2="159.4" stroke-width="0.4"/>
<line x1="335.57" y1="158.2" x2="335.57" y2="159.4" stroke-width="0.4"/>
<line x1="338.82" y1="158.2" x2="338.82" y2="159.4" stroke-width="0.4"/>
<line x1="341.58" y1="158.2" x2="341.58" y2="159.4" stroke-width="0.4"/>
<line x1="343.96" y1="158.2" x2="343.96" y2="159.4" stroke-width="0.4"/>
<line x1="346.06" y1="158.2" x2="346.06" y2="159.4" stroke-width="0.4"/>
<line x1="347.94" y1="158.2" x2="347.94" y2="160.4" stroke-width="0.6"/>
<line x1="360.31" y1="158.2" x2="360.31" y2="159.4" stroke-width="0.4"/>
<line x1="367.54" y1="158.2" x2="367.54" y2="159.4" stroke-width="0.4"/>
<line x1="372.68" y1="158.2" x2="372.68" y2="159.4" stroke-width="0.4"/>
<line x1="376.66" y1="158.2" x2="376.66" y2="159.4" stroke-width="0.4"/>
<line x1="379.91" y1="158.2" x2="379.91" y2="159.4" stroke-width="0.4"/>
<line x1="382.67" y1="158.2" x2="382.67" y2="159.4" stroke-width="0.4"/>
<line x1="385.05" y1="158.2" x2="385.05" y2="159.4" stroke-width="0.4"/>
<line x1="387.15" y1="158.2" x2="387.15" y2="159.4" stroke-width="0.4"/>
<line x1="389.03" y1="158.2" x2="389.03" y2="160.4" stroke-width="0.6"/>
<line x1="401.4" y1="158.2" x2="401.4" y2="159.4" stroke-width="0.4"/>
<line x1="408.63" y1="158.2" x2="408.63" y2="159.4" stroke-width="0.4"/>
<line x1="413.77" y1="158.2" x2="413.77" y2="159.4" stroke-width="0.4"/>
<line x1="417.75" y1="158.2" x2="417.75" y2="159.4" stroke-width="0.4"/>
<line x1="421" y1="158.2" x2="421" y2="159.4" stroke-width="0.4"/>
<line x1="423.76" y1="158.2" x2="423.76" y2="159.4" stroke-width="0.4"/>
<line x1="426.14" y1="158.2" x2="426.14" y2="159.4" stroke-width="0.4"/>
<line x1="428.24" y1="158.2" x2="428.24" y2="159.4" stroke-width="0.4"/>
<line x1="430.12" y1="158.2" x2="430.12" y2="160.4" stroke-width="0.6"/>
<line x1="442.49" y1="158.2" x2="442.49" y2="159.4" stroke-width="0.4"/>
<line x1="449.72" y1="158.2" x2="449.72" y2="159.4" stroke-width="0.4"/>
<line x1="454.86" y1="158.2" x2="454.86" y2="159.4" stroke-width="0.4"/>
<line x1="458.84" y1="158.2" x2="458.84" y2="159.4" stroke-width="0.4"/>
<line x1="462.09" y1="158.2" x2="462.09" y2="159.4" stroke-width="0.4"/>
<line x1="464.85" y1="158.2" x2="464.85" y2="159.4" stroke-width="0.4"/>
<line x1="467.23" y1="158.2" x2="467.23" y2="159.4" stroke-width="0.4"/>
<line x1="469.33" y1="158.2" x2="469.33" y2="159.4" stroke-width="0.4"/>
<line x1="471.21" y1="158.2" x2="471.21" y2="160.4" stroke-width="0.6"/>
<line x1="483.58" y1="158.2" x2="483.58" y2="159.4" stroke-width="0.4"/>
<line x1="490.81" y1="158.2" x2="490.81" y2="159.4" stroke-width="0.4"/>
<line x1="495.95" y1="158.2" x2="495.95" y2="159.4" stroke-width="0.4"/>
<line x1="499.93" y1="158.2" x2="499.93" y2="159.4" stroke-width="0.4"/>
<line x1="503.18" y1="158.2" x2="503.18" y2="159.4" stroke-width="0.4"/>
<line x1="505.94" y1="158.2" x2="505.94" y2="159.4" stroke-width="0.4"/>
<line x1="508.32" y1="158.2" x2="508.32" y2="159.4" stroke-width="0.4"/>
<line x1="510.42" y1="158.2" x2="510.42" y2="159.4" stroke-width="0.4"/>
<line x1="512.3" y1="158.2" x2="512.3" y2="160.4" stroke-width="0.6"/>
</g>
<text class="t" transform="translate(303.15,7.2) scale(1.0,1)" font-size="6.3" text-anchor="end" fill="#2a2a2a">10<tspan font-size="3.78" dx="0.8" dy="-2.77">6</tspan></text>
<text class="t" transform="translate(303.15,29.16) scale(1.0,1)" font-size="6.3" text-anchor="end" fill="#2a2a2a">10<tspan font-size="3.78" dx="0.8" dy="-2.77">5</tspan></text>
<text class="t" transform="translate(303.15,51.11) scale(1.0,1)" font-size="6.3" text-anchor="end" fill="#2a2a2a">10<tspan font-size="3.78" dx="0.8" dy="-2.77">4</tspan></text>
<text class="t" transform="translate(303.15,73.07) scale(1.0,1)" font-size="6.3" text-anchor="end" fill="#2a2a2a">10<tspan font-size="3.78" dx="0.8" dy="-2.77">3</tspan></text>
<text class="t" transform="translate(303.15,95.03) scale(1.0,1)" font-size="6.3" text-anchor="end" fill="#2a2a2a">10<tspan font-size="3.78" dx="0.8" dy="-2.77">2</tspan></text>
<text class="t" transform="translate(303.15,116.99) scale(1.0,1)" font-size="6.3" text-anchor="end" fill="#2a2a2a">10<tspan font-size="3.78" dx="0.8" dy="-2.77">1</tspan></text>
<text class="t" transform="translate(303.15,138.94) scale(1.0,1)" font-size="6.3" text-anchor="end" fill="#2a2a2a">10<tspan font-size="3.78" dx="0.8" dy="-2.77">0</tspan></text>
<text class="t" transform="translate(303.15,160.9) scale(1.0,1)" font-size="6.3" text-anchor="end" fill="#2a2a2a">10<tspan font-size="3.78" dx="0.8" dy="-2.77">−1</tspan></text>
<text class="t" transform="translate(307.35,167) scale(1.0,1)" font-size="6.3" text-anchor="middle" fill="#2a2a2a">10<tspan font-size="3.78" dx="0.8" dy="-2.77">−12</tspan></text>
<text class="t" transform="translate(348.44,167) scale(1.0,1)" font-size="6.3" text-anchor="middle" fill="#2a2a2a">10<tspan font-size="3.78" dx="0.8" dy="-2.77">−11</tspan></text>
<text class="t" transform="translate(389.53,167) scale(1.0,1)" font-size="6.3" text-anchor="middle" fill="#2a2a2a">10<tspan font-size="3.78" dx="0.8" dy="-2.77">−10</tspan></text>
<text class="t" transform="translate(430.62,167) scale(1.0,1)" font-size="6.3" text-anchor="middle" fill="#2a2a2a">10<tspan font-size="3.78" dx="0.8" dy="-2.77">−9</tspan></text>
<text class="t" transform="translate(471.71,167) scale(1.0,1)" font-size="6.3" text-anchor="middle" fill="#2a2a2a">10<tspan font-size="3.78" dx="0.8" dy="-2.77">−8</tspan></text>
<text class="t" transform="translate(512.8,167) scale(1.0,1)" font-size="6.3" text-anchor="middle" fill="#2a2a2a">10<tspan font-size="3.78" dx="0.8" dy="-2.77">−7</tspan></text>
<g stroke="#161616" stroke-width="1.0">
<circle cx="366.3" cy="39.6" r="1.55" fill="url(#gol)"/>
<circle cx="371.1" cy="39.6" r="1.55" fill="url(#gol)"/>
<circle cx="376.4" cy="39.6" r="1.55" fill="url(#gpu)"/>
<circle cx="379.7" cy="39.6" r="1.55" fill="url(#gpu)"/>
<circle cx="394" cy="55.2" r="1.55" fill="url(#gwh)"/>
<circle cx="352.8" cy="75" r="1.55" fill="url(#gol)"/>
<circle cx="346" cy="81.1" r="1.55" fill="url(#gte)"/>
<circle cx="362.9" cy="77" r="1.55" fill="url(#gol)"/>
<circle cx="360.2" cy="81.8" r="1.55" fill="url(#gol)"/>
<circle cx="371.1" cy="75" r="1.55" fill="url(#ggr)"/>
<circle cx="373.8" cy="70.2" r="1.55" fill="url(#gor)"/>
<circle cx="373.8" cy="77" r="1.55" fill="url(#gor)"/>
<circle cx="365.6" cy="86.5" r="1.55" fill="url(#gpu)"/>
<circle cx="372.4" cy="87.9" r="1.55" fill="url(#glb)"/>
<circle cx="356.2" cy="90.6" r="1.55" fill="url(#ggr)"/>
<circle cx="356.8" cy="95.3" r="1.55" fill="url(#gol)"/>
<circle cx="358.2" cy="98" r="1.55" fill="url(#gwh)"/>
<circle cx="363.6" cy="95.3" r="1.55" fill="url(#gor)"/>
<circle cx="364.3" cy="98.7" r="1.55" fill="url(#gol)"/>
<circle cx="364.3" cy="101.4" r="1.55" fill="url(#ggr)"/>
<circle cx="371.7" cy="99.4" r="1.55" fill="url(#gpu)"/>
<circle cx="373.8" cy="95.3" r="1.55" fill="url(#ggr)"/>
<circle cx="353.2" cy="103.4" r="1.55" fill="url(#gwh)"/>
<circle cx="360.2" cy="104.1" r="1.55" fill="url(#gog)"/>
<circle cx="368.4" cy="103.4" r="1.55" fill="url(#gpu)"/>
<circle cx="373.8" cy="104.1" r="1.55" fill="url(#gpu)"/>
<circle cx="394.7" cy="56" r="1.55" fill="url(#gwh)"/>
<circle cx="400.8" cy="58" r="1.55" fill="url(#gol)"/>
<circle cx="379.7" cy="66.2" r="1.55" fill="url(#gbl)"/>
<circle cx="375" cy="69.6" r="1.55" fill="url(#gor)"/>
<circle cx="392.6" cy="64.8" r="1.55" fill="url(#gpu)"/>
<circle cx="394.7" cy="62.8" r="1.55" fill="url(#gmg)"/>
<circle cx="396" cy="62.8" r="1.55" fill="url(#gmg)"/>
<circle cx="396" cy="66.8" r="1.55" fill="url(#gye)"/>
<circle cx="392.6" cy="67.9" r="1.55" fill="url(#gmg)"/>
<circle cx="398" cy="69.6" r="1.55" fill="url(#gwh)"/>
<circle cx="395.3" cy="71.2" r="1.55" fill="url(#glb)"/>
<circle cx="391.3" cy="72.3" r="1.55" fill="url(#glv)"/>
<circle cx="394" cy="73" r="1.55" fill="url(#gwh)"/>
<circle cx="404.6" cy="69.3" r="1.55" fill="url(#gol)"/>
<circle cx="400.1" cy="74.7" r="1.55" fill="url(#gwh)"/>
<circle cx="391.3" cy="76.6" r="1.55" fill="url(#gwh)"/>
<circle cx="395.3" cy="77" r="1.55" fill="url(#gol)"/>
<circle cx="397.4" cy="78.4" r="1.55" fill="url(#gte)"/>
<circle cx="400.1" cy="79" r="1.55" fill="url(#gwh)"/>
<circle cx="383.1" cy="79.7" r="1.55" fill="url(#gpu)"/>
<circle cx="385.8" cy="79.7" r="1.55" fill="url(#gpu)"/>
<circle cx="383.1" cy="82.4" r="1.55" fill="url(#gog)"/>
<circle cx="385.2" cy="84.5" r="1.55" fill="url(#gol)"/>
<circle cx="375.7" cy="77" r="1.55" fill="url(#gol)"/>
<circle cx="376.4" cy="83.8" r="1.55" fill="url(#gol)"/>
<circle cx="413" cy="66.8" r="1.55" fill="url(#gor)"/>
<circle cx="415.7" cy="69.6" r="1.55" fill="url(#gor)"/>
<circle cx="415.7" cy="73.4" r="1.55" fill="url(#gol)"/>
<circle cx="421.8" cy="72.3" r="1.55" fill="url(#gor)"/>
<circle cx="422.4" cy="72" r="1.55" fill="url(#ggr)"/>
<circle cx="424.9" cy="69.8" r="1.55" fill="url(#gor)"/>
<circle cx="434.6" cy="65.5" r="1.55" fill="url(#gor)"/>
<circle cx="439.8" cy="61.2" r="1.55" fill="url(#gwh)"/>
<circle cx="441.2" cy="69.6" r="1.55" fill="url(#gor)"/>
<circle cx="435.7" cy="74.3" r="1.55" fill="url(#gol)"/>
<circle cx="412.3" cy="78.4" r="1.55" fill="url(#glb)"/>
<circle cx="411.6" cy="81.1" r="1.55" fill="url(#gdr)"/>
<circle cx="418.1" cy="79.3" r="1.55" fill="url(#gye)"/>
<circle cx="410.5" cy="88.3" r="1.55" fill="url(#gdr)"/>
<circle cx="418.6" cy="87.4" r="1.55" fill="url(#gmg)"/>
<circle cx="421.1" cy="90.6" r="1.55" fill="url(#gol)"/>
<circle cx="400.1" cy="92.6" r="1.55" fill="url(#gor)"/>
<circle cx="415.7" cy="92.9" r="1.55" fill="url(#gor)"/>
<circle cx="418.1" cy="96.7" r="1.55" fill="url(#gwh)"/>
<circle cx="402.4" cy="97.3" r="1.55" fill="url(#gpu)"/>
<circle cx="420.8" cy="102.1" r="1.55" fill="url(#gol)"/>
<circle cx="375.7" cy="95.6" r="1.55" fill="url(#ggr)"/>
<circle cx="381.8" cy="96.4" r="1.55" fill="url(#glb)"/>
<circle cx="394.7" cy="99.6" r="1.55" fill="url(#gte)"/>
<circle cx="376.4" cy="103.4" r="1.55" fill="url(#gpu)"/>
<circle cx="379.1" cy="104.8" r="1.55" fill="url(#gor)"/>
<circle cx="386.9" cy="104.5" r="1.55" fill="url(#gpu)"/>
<circle cx="392.4" cy="104.1" r="1.55" fill="url(#glb)"/>
<circle cx="395.1" cy="104.8" r="1.55" fill="url(#gpu)"/>
<circle cx="476.8" cy="61.4" r="1.55" fill="url(#grd)"/>
<circle cx="482.2" cy="66.2" r="1.55" fill="url(#gol)"/>
<circle cx="496.9" cy="61.7" r="1.55" fill="url(#gdr)"/>
<circle cx="344" cy="115.1" r="1.55" fill="url(#gol)"/>
<circle cx="346.4" cy="113.8" r="1.55" fill="url(#gol)"/>
<circle cx="340.6" cy="124.4" r="1.55" fill="url(#gwh)"/>
<circle cx="345.3" cy="128" r="1.55" fill="url(#gwh)"/>
<circle cx="349.1" cy="128.7" r="1.55" fill="url(#gwh)"/>
<circle cx="352.8" cy="135.7" r="1.55" fill="url(#gwh)"/>
<circle cx="352.8" cy="124.6" r="1.55" fill="url(#gwh)"/>
<circle cx="356.2" cy="124.6" r="1.55" fill="url(#gwh)"/>
<circle cx="350.7" cy="109" r="1.55" fill="url(#gol)"/>
<circle cx="353.4" cy="109.7" r="1.55" fill="url(#ggr)"/>
<circle cx="354.8" cy="111.1" r="1.55" fill="url(#gwh)"/>
<circle cx="352.8" cy="114.5" r="1.55" fill="url(#gol)"/>
<circle cx="352.8" cy="117.2" r="1.55" fill="url(#gdr)"/>
<circle cx="358.2" cy="116.5" r="1.55" fill="url(#gte)"/>
<circle cx="360.9" cy="123.9" r="1.55" fill="url(#ggr)"/>
<circle cx="359.5" cy="107" r="1.55" fill="url(#gol)"/>
<circle cx="362.9" cy="109" r="1.55" fill="url(#ggr)"/>
<circle cx="365.6" cy="111.1" r="1.55" fill="url(#gol)"/>
<circle cx="365" cy="115.8" r="1.55" fill="url(#gwh)"/>
<circle cx="369.7" cy="115.1" r="1.55" fill="url(#gte)"/>
<circle cx="372.4" cy="113.1" r="1.55" fill="url(#gor)"/>
<circle cx="373.8" cy="109" r="1.55" fill="url(#gte)"/>
<circle cx="365.6" cy="118.5" r="1.55" fill="url(#ggr)"/>
<circle cx="368.4" cy="119.2" r="1.55" fill="url(#gol)"/>
<circle cx="370.4" cy="121.9" r="1.55" fill="url(#gpu)"/>
<circle cx="373.8" cy="120.6" r="1.55" fill="url(#gpu)"/>
<circle cx="363.6" cy="128" r="1.55" fill="url(#gte)"/>
<circle cx="366.3" cy="127.3" r="1.55" fill="url(#ggr)"/>
<circle cx="365.6" cy="129.4" r="1.55" fill="url(#gte)"/>
<circle cx="367.7" cy="131.4" r="1.55" fill="url(#gol)"/>
<circle cx="366.7" cy="135.5" r="1.55" fill="url(#gpu)"/>
<circle cx="372.4" cy="132.8" r="1.55" fill="url(#gpu)"/>
<circle cx="371.7" cy="139.3" r="1.55" fill="url(#gpu)"/>
<circle cx="371.1" cy="142.5" r="1.55" fill="url(#gpu)"/>
<circle cx="376.4" cy="109" r="1.55" fill="url(#gte)"/>
<circle cx="379.7" cy="112.2" r="1.55" fill="url(#gwh)"/>
<circle cx="395.3" cy="107.7" r="1.55" fill="url(#gwh)"/>
<circle cx="392" cy="119.5" r="1.55" fill="url(#gol)"/>
<circle cx="393.7" cy="121.2" r="1.55" fill="url(#gol)"/>
<circle cx="375.7" cy="120.6" r="1.55" fill="url(#gpu)"/>
<circle cx="378.4" cy="124" r="1.55" fill="url(#gpu)"/>
<circle cx="384.5" cy="126.7" r="1.55" fill="url(#gpu)"/>
<circle cx="387.9" cy="127.1" r="1.55" fill="url(#gpu)"/>
<circle cx="391" cy="126.7" r="1.55" fill="url(#gpu)"/>
<circle cx="380.4" cy="129.4" r="1.55" fill="url(#gpu)"/>
<circle cx="378.4" cy="131.1" r="1.55" fill="url(#gpu)"/>
<circle cx="377" cy="135.5" r="1.55" fill="url(#gpu)"/>
<circle cx="379.1" cy="137.5" r="1.55" fill="url(#gpu)"/>
<circle cx="383.8" cy="133.4" r="1.55" fill="url(#gpu)"/>
<circle cx="383.8" cy="136.1" r="1.55" fill="url(#gpu)"/>
<circle cx="386.9" cy="137.9" r="1.55" fill="url(#gpu)"/>
<circle cx="396.4" cy="135.2" r="1.55" fill="url(#gol)"/>
<circle cx="396" cy="138.9" r="1.55" fill="url(#gye)"/>
<circle cx="466.8" cy="115.4" r="1.55" fill="url(#gyg)"/>
<circle cx="454.2" cy="134.8" r="1.55" fill="url(#gol)"/>
<circle cx="357.2" cy="106" r="1.55" fill="url(#ggr)"/>
<circle cx="370.8" cy="106" r="1.55" fill="url(#gte)"/>
<circle cx="387.6" cy="39.6" r="1.55" fill="url(#gol)"/>
<circle cx="390.3" cy="39.6" r="1.55" fill="url(#gol)"/>
<circle cx="393" cy="39.6" r="1.55" fill="url(#gog)"/>
<circle cx="395.7" cy="39.6" r="1.55" fill="url(#gol)"/>
<circle cx="398.4" cy="39.6" r="1.55" fill="url(#ggr)"/>
<circle cx="401.1" cy="39.6" r="1.55" fill="url(#gol)"/>
<circle cx="403.8" cy="39.6" r="1.55" fill="url(#gol)"/>
<circle cx="406.5" cy="39.6" r="1.55" fill="url(#gol)"/>
<circle cx="409.2" cy="39.6" r="1.55" fill="url(#gog)"/>
<circle cx="411.9" cy="39.6" r="1.55" fill="url(#gol)"/>
<circle cx="414.6" cy="39.6" r="1.55" fill="url(#gol)"/>
<circle cx="417.3" cy="39.6" r="1.55" fill="url(#gol)"/>
<circle cx="420" cy="39.6" r="1.55" fill="url(#gol)"/>
<circle cx="422.7" cy="39.6" r="1.55" fill="url(#gpu)"/>
<circle cx="425.4" cy="39.6" r="1.55" fill="url(#gbl)"/>
<circle cx="428.1" cy="39.6" r="1.55" fill="url(#gol)"/>
<circle cx="430.8" cy="39.6" r="1.55" fill="url(#gol)"/>
<circle cx="433.5" cy="39.6" r="1.55" fill="url(#gbl)"/>
<circle cx="436.2" cy="39.6" r="1.55" fill="url(#gbl)"/>
<circle cx="438.9" cy="39.6" r="1.55" fill="url(#gbl)"/>
<circle cx="441.6" cy="39.6" r="1.55" fill="url(#ggr)"/>
<circle cx="444.3" cy="39.6" r="1.55" fill="url(#gol)"/>
<circle cx="450.1" cy="39.6" r="1.55" fill="url(#gol)"/>
<circle cx="452.85" cy="39.6" r="1.55" fill="url(#gol)"/>
<circle cx="455.6" cy="39.6" r="1.55" fill="url(#gol)"/>
<circle cx="458.35" cy="39.6" r="1.55" fill="url(#gol)"/>
<circle cx="461.1" cy="39.6" r="1.55" fill="url(#gbl)"/>
<circle cx="463.85" cy="39.6" r="1.55" fill="url(#gpu)"/>
<circle cx="466.6" cy="39.6" r="1.55" fill="url(#gol)"/>
<circle cx="469.35" cy="39.6" r="1.55" fill="url(#gol)"/>
<circle cx="472.1" cy="39.6" r="1.55" fill="url(#gbl)"/>
<circle cx="474.85" cy="39.6" r="1.55" fill="url(#grd)"/>
<circle cx="477.6" cy="39.6" r="1.55" fill="url(#gor)"/>
<circle cx="480.35" cy="39.6" r="1.55" fill="url(#gor)"/>
<circle cx="483.1" cy="39.6" r="1.55" fill="url(#gwh)"/>
<circle cx="485.85" cy="39.6" r="1.55" fill="url(#gtn)"/>
<circle cx="488.6" cy="39.6" r="1.55" fill="url(#gor)"/>
<circle cx="491.35" cy="39.6" r="1.55" fill="url(#gtn)"/>
<circle cx="494.1" cy="39.6" r="1.55" fill="url(#gye)"/>
<circle cx="496.85" cy="39.6" r="1.55" fill="url(#gwh)"/>
<circle cx="507" cy="39.6" r="1.55" fill="url(#gol)"/>
</g>
<rect x="308.8" y="5.4" width="14.6" height="84.6" fill="#fff" fill-opacity="0.8" stroke="#dddddd" stroke-width="0.5" rx="0.8"/>
<g stroke="#1a1a1a" stroke-width="0.6">
<circle cx="312.5" cy="8.8" r="1.6" fill="#8c1d2c"/>
<circle cx="312.5" cy="12.98" r="1.6" fill="#d4616b"/>
<circle cx="312.5" cy="17.16" r="1.6" fill="#f3ebe3"/>
<circle cx="312.5" cy="21.34" r="1.6" fill="#c99a5b"/>
<circle cx="312.5" cy="25.52" r="1.6" fill="#e2ae3e"/>
<circle cx="312.5" cy="29.7" r="1.6" fill="#e9cf4f"/>
<circle cx="312.5" cy="33.88" r="1.6" fill="#ddd246"/>
<circle cx="312.5" cy="38.06" r="1.6" fill="#c9d265"/>
<circle cx="312.5" cy="42.24" r="1.6" fill="#4f9a4f"/>
<circle cx="312.5" cy="46.42" r="1.6" fill="#3e9e6c"/>
<circle cx="312.5" cy="50.6" r="1.6" fill="#4db6a1"/>
<circle cx="312.5" cy="54.78" r="1.6" fill="#c6ecec"/>
<circle cx="312.5" cy="58.96" r="1.6" fill="#52a89f"/>
<circle cx="312.5" cy="63.14" r="1.6" fill="#74c1c8"/>
<circle cx="312.5" cy="67.32" r="1.6" fill="#25309e"/>
<circle cx="312.5" cy="71.5" r="1.6" fill="#a3a3e2"/>
<circle cx="312.5" cy="75.68" r="1.6" fill="#7552c1"/>
<circle cx="312.5" cy="79.86" r="1.6" fill="#d3a4e2"/>
<circle cx="312.5" cy="84.04" r="1.6" fill="#c441c4"/>
<circle cx="312.5" cy="88.22" r="1.6" fill="#8f8f34"/>
</g>
<text x="317.7" y="9.8" font-size="3.0" fill="#3a3a3a">1</text>
<text x="317.7" y="13.98" font-size="3.0" fill="#3a3a3a">2a</text>
<text x="317.7" y="18.16" font-size="3.0" fill="#3a3a3a">2b</text>
<text x="317.7" y="22.34" font-size="3.0" fill="#3a3a3a">2c</text>
<text x="317.7" y="26.52" font-size="3.0" fill="#3a3a3a">2d</text>
<text x="317.7" y="30.7" font-size="3.0" fill="#3a3a3a">3a</text>
<text x="317.7" y="34.88" font-size="3.0" fill="#3a3a3a">3b</text>
<text x="317.7" y="39.06" font-size="3.0" fill="#3a3a3a">4a</text>
<text x="317.7" y="43.24" font-size="3.0" fill="#3a3a3a">4b</text>
<text x="317.7" y="47.42" font-size="3.0" fill="#3a3a3a">4c</text>
<text x="317.7" y="51.6" font-size="3.0" fill="#3a3a3a">5a</text>
<text x="317.7" y="55.78" font-size="3.0" fill="#3a3a3a">5b</text>
<text x="317.7" y="59.96" font-size="3.0" fill="#3a3a3a">5c</text>
<text x="317.7" y="64.14" font-size="3.0" fill="#3a3a3a">5d</text>
<text x="317.7" y="68.32" font-size="3.0" fill="#3a3a3a">6a</text>
<text x="317.7" y="72.5" font-size="3.0" fill="#3a3a3a">6b</text>
<text x="317.7" y="76.68" font-size="3.0" fill="#3a3a3a">7a</text>
<text x="317.7" y="80.86" font-size="3.0" fill="#3a3a3a">7b</text>
<text x="317.7" y="85.04" font-size="3.0" fill="#3a3a3a">7c</text>
<text x="317.7" y="89.22" font-size="3.0" fill="#3a3a3a">ND</text>
<rect x="306.85" y="4.5" width="205.45" height="153.7" fill="none" stroke="#626262" stroke-width="1.0"/>
<text x="330.8" y="16.5" font-size="8.65" text-anchor="start" font-weight="bold" fill="#111" >r = 0.71</text>
<text x="330.8" y="26.7" font-size="8.65" text-anchor="start" font-weight="bold" fill="#111" >p-value = 3.9e-44</text>
<text class="t" x="409.57" y="174.8" font-size="6.45" text-anchor="middle" font-weight="normal" fill="#2a2a2a" ><tspan font-style="italic">K</tspan><tspan font-size="4" dy="1.2">D</tspan><tspan dy="-1.2"> (M),Affinity to B.1.351 Spike</tspan></text>
<text class="t" x="0" y="0" font-size="6.45" text-anchor="middle" fill="#2a2a2a" transform="translate(286.5,81.35) rotate(-90)"><tspan font-style="italic">IC</tspan><tspan font-size="4" dy="1.2">50</tspan><tspan dy="-1.2"> (ng/mL),Pseudovirus neutralization (B.1.351)</tspan></text>
<text x="256.1" y="15.9" font-size="10.6" text-anchor="start" font-weight="bold" fill="#111" >(B)</text>
<g stroke="#555555" fill="none">
<line x1="34.6" y1="184.5" x2="36.4" y2="184.5" stroke-width="0.5"/>
<line x1="35.4" y1="199.93" x2="36.4" y2="199.93" stroke-width="0.35"/>
<line x1="35.4" y1="196.04" x2="36.4" y2="196.04" stroke-width="0.35"/>
<line x1="35.4" y1="193.28" x2="36.4" y2="193.28" stroke-width="0.35"/>
<line x1="35.4" y1="191.15" x2="36.4" y2="191.15" stroke-width="0.35"/>
<line x1="35.4" y1="189.4" x2="36.4" y2="189.4" stroke-width="0.35"/>
<line x1="35.4" y1="187.92" x2="36.4" y2="187.92" stroke-width="0.35"/>
<line x1="35.4" y1="186.64" x2="36.4" y2="186.64" stroke-width="0.35"/>
<line x1="35.4" y1="185.51" x2="36.4" y2="185.51" stroke-width="0.35"/>
<line x1="34.6" y1="206.57" x2="36.4" y2="206.57" stroke-width="0.5"/>
<line x1="35.4" y1="222" x2="36.4" y2="222" stroke-width="0.35"/>
<line x1="35.4" y1="218.12" x2="36.4" y2="218.12" stroke-width="0.35"/>
<line x1="35.4" y1="215.36" x2="36.4" y2="215.36" stroke-width="0.35"/>
<line x1="35.4" y1="213.22" x2="36.4" y2="213.22" stroke-width="0.35"/>
<line x1="35.4" y1="211.47" x2="36.4" y2="211.47" stroke-width="0.35"/>
<line x1="35.4" y1="209.99" x2="36.4" y2="209.99" stroke-width="0.35"/>
<line x1="35.4" y1="208.71" x2="36.4" y2="208.71" stroke-width="0.35"/>
<line x1="35.4" y1="207.59" x2="36.4" y2="207.59" stroke-width="0.35"/>
<line x1="34.6" y1="228.65" x2="36.4" y2="228.65" stroke-width="0.5"/>
<line x1="35.4" y1="244.08" x2="36.4" y2="244.08" stroke-width="0.35"/>
<line x1="35.4" y1="240.19" x2="36.4" y2="240.19" stroke-width="0.35"/>
<line x1="35.4" y1="237.43" x2="36.4" y2="237.43" stroke-width="0.35"/>
<line x1="35.4" y1="235.3" x2="36.4" y2="235.3" stroke-width="0.35"/>
<line x1="35.4" y1="233.55" x2="36.4" y2="233.55" stroke-width="0.35"/>
<line x1="35.4" y1="232.07" x2="36.4" y2="232.07" stroke-width="0.35"/>
<line x1="35.4" y1="230.79" x2="36.4" y2="230.79" stroke-width="0.35"/>
<line x1="35.4" y1="229.66" x2="36.4" y2="229.66" stroke-width="0.35"/>
<line x1="34.6" y1="250.73" x2="36.4" y2="250.73" stroke-width="0.5"/>
<line x1="35.4" y1="266.15" x2="36.4" y2="266.15" stroke-width="0.35"/>
<line x1="35.4" y1="262.27" x2="36.4" y2="262.27" stroke-width="0.35"/>
<line x1="35.4" y1="259.51" x2="36.4" y2="259.51" stroke-width="0.35"/>
<line x1="35.4" y1="257.37" x2="36.4" y2="257.37" stroke-width="0.35"/>
<line x1="35.4" y1="255.62" x2="36.4" y2="255.62" stroke-width="0.35"/>
<line x1="35.4" y1="254.14" x2="36.4" y2="254.14" stroke-width="0.35"/>
<line x1="35.4" y1="252.86" x2="36.4" y2="252.86" stroke-width="0.35"/>
<line x1="35.4" y1="251.74" x2="36.4" y2="251.74" stroke-width="0.35"/>
<line x1="34.6" y1="272.8" x2="36.4" y2="272.8" stroke-width="0.5"/>
<line x1="35.4" y1="288.23" x2="36.4" y2="288.23" stroke-width="0.35"/>
<line x1="35.4" y1="284.34" x2="36.4" y2="284.34" stroke-width="0.35"/>
<line x1="35.4" y1="281.58" x2="36.4" y2="281.58" stroke-width="0.35"/>
<line x1="35.4" y1="279.45" x2="36.4" y2="279.45" stroke-width="0.35"/>
<line x1="35.4" y1="277.7" x2="36.4" y2="277.7" stroke-width="0.35"/>
<line x1="35.4" y1="276.22" x2="36.4" y2="276.22" stroke-width="0.35"/>
<line x1="35.4" y1="274.94" x2="36.4" y2="274.94" stroke-width="0.35"/>
<line x1="35.4" y1="273.81" x2="36.4" y2="273.81" stroke-width="0.35"/>
<line x1="34.6" y1="294.88" x2="36.4" y2="294.88" stroke-width="0.5"/>
<line x1="35.4" y1="310.3" x2="36.4" y2="310.3" stroke-width="0.35"/>
<line x1="35.4" y1="306.42" x2="36.4" y2="306.42" stroke-width="0.35"/>
<line x1="35.4" y1="303.66" x2="36.4" y2="303.66" stroke-width="0.35"/>
<line x1="35.4" y1="301.52" x2="36.4" y2="301.52" stroke-width="0.35"/>
<line x1="35.4" y1="299.77" x2="36.4" y2="299.77" stroke-width="0.35"/>
<line x1="35.4" y1="298.29" x2="36.4" y2="298.29" stroke-width="0.35"/>
<line x1="35.4" y1="297.01" x2="36.4" y2="297.01" stroke-width="0.35"/>
<line x1="35.4" y1="295.89" x2="36.4" y2="295.89" stroke-width="0.35"/>
<line x1="34.6" y1="316.95" x2="36.4" y2="316.95" stroke-width="0.5"/>
<line x1="35.4" y1="332.38" x2="36.4" y2="332.38" stroke-width="0.35"/>
<line x1="35.4" y1="328.49" x2="36.4" y2="328.49" stroke-width="0.35"/>
<line x1="35.4" y1="325.73" x2="36.4" y2="325.73" stroke-width="0.35"/>
<line x1="35.4" y1="323.6" x2="36.4" y2="323.6" stroke-width="0.35"/>
<line x1="35.4" y1="321.85" x2="36.4" y2="321.85" stroke-width="0.35"/>
<line x1="35.4" y1="320.37" x2="36.4" y2="320.37" stroke-width="0.35"/>
<line x1="35.4" y1="319.09" x2="36.4" y2="319.09" stroke-width="0.35"/>
<line x1="35.4" y1="317.96" x2="36.4" y2="317.96" stroke-width="0.35"/>
<line x1="34.6" y1="339.03" x2="36.4" y2="339.03" stroke-width="0.5"/>
<line x1="35.4" y1="354.45" x2="36.4" y2="354.45" stroke-width="0.35"/>
<line x1="35.4" y1="350.57" x2="36.4" y2="350.57" stroke-width="0.35"/>
<line x1="35.4" y1="347.81" x2="36.4" y2="347.81" stroke-width="0.35"/>
<line x1="35.4" y1="345.67" x2="36.4" y2="345.67" stroke-width="0.35"/>
<line x1="35.4" y1="343.92" x2="36.4" y2="343.92" stroke-width="0.35"/>
<line x1="35.4" y1="342.44" x2="36.4" y2="342.44" stroke-width="0.35"/>
<line x1="35.4" y1="341.16" x2="36.4" y2="341.16" stroke-width="0.35"/>
<line x1="35.4" y1="340.04" x2="36.4" y2="340.04" stroke-width="0.35"/>
<line x1="34.6" y1="361.1" x2="36.4" y2="361.1" stroke-width="0.5"/>
</g>
<text class="n" transform="translate(33.8,187) scale(1.0,1)" font-size="4.3" text-anchor="end" fill="#555">10<tspan font-size="2.58" dx="0.8" dy="-1.89">6</tspan></text>
<text class="n" transform="translate(33.8,209.07) scale(1.0,1)" font-size="4.3" text-anchor="end" fill="#555">10<tspan font-size="2.58" dx="0.8" dy="-1.89">5</tspan></text>
<text class="n" transform="translate(33.8,231.15) scale(1.0,1)" font-size="4.3" text-anchor="end" fill="#555">10<tspan font-size="2.58" dx="0.8" dy="-1.89">4</tspan></text>
<text class="n" transform="translate(33.8,253.23) scale(1.0,1)" font-size="4.3" text-anchor="end" fill="#555">10<tspan font-size="2.58" dx="0.8" dy="-1.89">3</tspan></text>
<text class="n" transform="translate(33.8,275.3) scale(1.0,1)" font-size="4.3" text-anchor="end" fill="#555">10<tspan font-size="2.58" dx="0.8" dy="-1.89">2</tspan></text>
<text class="n" transform="translate(33.8,297.38) scale(1.0,1)" font-size="4.3" text-anchor="end" fill="#555">10<tspan font-size="2.58" dx="0.8" dy="-1.89">1</tspan></text>
<text class="n" transform="translate(33.8,319.45) scale(1.0,1)" font-size="4.3" text-anchor="end" fill="#555">10<tspan font-size="2.58" dx="0.8" dy="-1.89">0</tspan></text>
<text class="n" transform="translate(33.8,341.53) scale(1.0,1)" font-size="4.3" text-anchor="end" fill="#555">10<tspan font-size="2.58" dx="0.8" dy="-1.89">−1</tspan></text>
<text class="n" transform="translate(33.8,363.6) scale(1.0,1)" font-size="4.3" text-anchor="end" fill="#555">10<tspan font-size="2.58" dx="0.8" dy="-1.89">−2</tspan></text>
<line x1="41.1" y1="232" x2="41.1" y2="299.3" stroke="#8a8a8a" stroke-width="1.05"/>
<line x1="40.35" y1="232" x2="41.85" y2="232" stroke="#363636" stroke-width="1.0"/>
<line x1="40.35" y1="299.3" x2="41.85" y2="299.3" stroke="#363636" stroke-width="1.0"/>
<rect x="39.4" y="259.5" width="3.4" height="16.5" fill="#3274a1" stroke="#363636" stroke-width="0.6"/>
<line x1="39.4" y1="270" x2="42.8" y2="270" stroke="#363636" stroke-width="0.5"/>
<line x1="44.45" y1="220" x2="44.45" y2="306.2" stroke="#8a8a8a" stroke-width="1.05"/>
<line x1="43.7" y1="220" x2="45.2" y2="220" stroke="#363636" stroke-width="1.0"/>
<line x1="43.7" y1="306.2" x2="45.2" y2="306.2" stroke="#363636" stroke-width="1.0"/>
<rect x="42.75" y="267.3" width="3.4" height="18.1" fill="#e1a93c" stroke="#363636" stroke-width="0.6"/>
<line x1="42.75" y1="279.4" x2="46.15" y2="279.4" stroke="#363636" stroke-width="0.5"/>
<line x1="47.8" y1="220" x2="47.8" y2="298.4" stroke="#8a8a8a" stroke-width="1.05"/>
<line x1="47.05" y1="220" x2="48.55" y2="220" stroke="#363636" stroke-width="1.0"/>
<line x1="47.05" y1="298.4" x2="48.55" y2="298.4" stroke="#363636" stroke-width="1.0"/>
<rect x="46.1" y="225.3" width="3.4" height="48" fill="#d2282b" stroke="#363636" stroke-width="0.6"/>
<line x1="46.1" y1="259" x2="49.5" y2="259" stroke="#363636" stroke-width="0.5"/>
<line x1="57.48" y1="220" x2="57.48" y2="301.9" stroke="#8a8a8a" stroke-width="1.05"/>
<line x1="56.73" y1="220" x2="58.23" y2="220" stroke="#363636" stroke-width="1.0"/>
<line x1="56.73" y1="301.9" x2="58.23" y2="301.9" stroke="#363636" stroke-width="1.0"/>
<rect x="55.78" y="271.6" width="3.4" height="14.7" fill="#3274a1" stroke="#363636" stroke-width="0.6"/>
<line x1="55.78" y1="278.2" x2="59.18" y2="278.2" stroke="#363636" stroke-width="0.5"/>
<line x1="60.83" y1="220" x2="60.83" y2="306.2" stroke="#8a8a8a" stroke-width="1.05"/>
<line x1="60.08" y1="220" x2="61.58" y2="220" stroke="#363636" stroke-width="1.0"/>
<line x1="60.08" y1="306.2" x2="61.58" y2="306.2" stroke="#363636" stroke-width="1.0"/>
<rect x="59.13" y="276.8" width="3.4" height="13" fill="#e1a93c" stroke="#363636" stroke-width="0.6"/>
<line x1="59.13" y1="283" x2="62.53" y2="283" stroke="#363636" stroke-width="0.5"/>
<line x1="64.18" y1="220" x2="64.18" y2="312.2" stroke="#8a8a8a" stroke-width="1.05"/>
<line x1="63.43" y1="220" x2="64.93" y2="220" stroke="#363636" stroke-width="1.0"/>
<line x1="63.43" y1="312.2" x2="64.93" y2="312.2" stroke="#363636" stroke-width="1.0"/>
<rect x="62.48" y="220" width="3.4" height="53.3" fill="#d2282b" stroke="#363636" stroke-width="0.6"/>
<line x1="62.48" y1="221" x2="65.88" y2="221" stroke="#363636" stroke-width="0.5"/>
<line x1="73.86" y1="247.4" x2="73.86" y2="307.2" stroke="#8a8a8a" stroke-width="1.05"/>
<line x1="73.11" y1="247.4" x2="74.61" y2="247.4" stroke="#363636" stroke-width="1.0"/>
<line x1="73.11" y1="307.2" x2="74.61" y2="307.2" stroke="#363636" stroke-width="1.0"/>
<rect x="72.16" y="288.9" width="3.4" height="13.8" fill="#3274a1" stroke="#363636" stroke-width="0.6"/>
<line x1="72.16" y1="296" x2="75.56" y2="296" stroke="#363636" stroke-width="0.5"/>
<line x1="77.21" y1="220" x2="77.21" y2="318.5" stroke="#8a8a8a" stroke-width="1.05"/>
<line x1="76.46" y1="220" x2="77.96" y2="220" stroke="#363636" stroke-width="1.0"/>
<line x1="76.46" y1="318.5" x2="77.96" y2="318.5" stroke="#363636" stroke-width="1.0"/>
<rect x="75.51" y="255.2" width="3.4" height="50.1" fill="#e1a93c" stroke="#363636" stroke-width="0.6"/>
<line x1="75.51" y1="282" x2="78.91" y2="282" stroke="#363636" stroke-width="0.5"/>
<line x1="80.56" y1="220" x2="80.56" y2="317.3" stroke="#8a8a8a" stroke-width="1.05"/>
<line x1="79.81" y1="220" x2="81.31" y2="220" stroke="#363636" stroke-width="1.0"/>
<line x1="79.81" y1="317.3" x2="81.31" y2="317.3" stroke="#363636" stroke-width="1.0"/>
<rect x="78.86" y="282" width="3.4" height="21.6" fill="#d2282b" stroke="#363636" stroke-width="0.6"/>
<line x1="78.86" y1="291.5" x2="82.26" y2="291.5" stroke="#363636" stroke-width="0.5"/>
<line x1="90.24" y1="242" x2="90.24" y2="300.9" stroke="#8a8a8a" stroke-width="1.05"/>
<line x1="89.49" y1="242" x2="90.99" y2="242" stroke="#363636" stroke-width="1.0"/>
<line x1="89.49" y1="300.9" x2="90.99" y2="300.9" stroke="#363636" stroke-width="1.0"/>
<rect x="88.54" y="264" width="3.4" height="31.3" fill="#3274a1" stroke="#363636" stroke-width="0.6"/>
<line x1="88.54" y1="285.7" x2="91.94" y2="285.7" stroke="#363636" stroke-width="0.5"/>
<line x1="93.59" y1="220" x2="93.59" y2="305.7" stroke="#8a8a8a" stroke-width="1.05"/>
<line x1="92.84" y1="220" x2="94.34" y2="220" stroke="#363636" stroke-width="1.0"/>
<line x1="92.84" y1="305.7" x2="94.34" y2="305.7" stroke="#363636" stroke-width="1.0"/>
<rect x="91.89" y="231.8" width="3.4" height="55.5" fill="#e1a93c" stroke="#363636" stroke-width="0.6"/>
<line x1="91.89" y1="274.3" x2="95.29" y2="274.3" stroke="#363636" stroke-width="0.5"/>
<line x1="96.94" y1="220" x2="96.94" y2="284.9" stroke="#8a8a8a" stroke-width="1.05"/>
<line x1="96.19" y1="220" x2="97.69" y2="220" stroke="#363636" stroke-width="1.0"/>
<line x1="96.19" y1="284.9" x2="97.69" y2="284.9" stroke="#363636" stroke-width="1.0"/>
<rect x="95.24" y="220" width="3.4" height="30.8" fill="#d2282b" stroke="#363636" stroke-width="0.6"/>
<line x1="95.24" y1="221" x2="98.64" y2="221" stroke="#363636" stroke-width="0.5"/>
<line x1="106.62" y1="254.2" x2="106.62" y2="304" stroke="#8a8a8a" stroke-width="1.05"/>
<line x1="105.87" y1="254.2" x2="107.37" y2="254.2" stroke="#363636" stroke-width="1.0"/>
<line x1="105.87" y1="304" x2="107.37" y2="304" stroke="#363636" stroke-width="1.0"/>
<rect x="104.92" y="284.1" width="3.4" height="12" fill="#3274a1" stroke="#363636" stroke-width="0.6"/>
<line x1="104.92" y1="290" x2="108.32" y2="290" stroke="#363636" stroke-width="0.5"/>
<line x1="109.97" y1="220" x2="109.97" y2="318.4" stroke="#8a8a8a" stroke-width="1.05"/>
<line x1="109.22" y1="220" x2="110.72" y2="220" stroke="#363636" stroke-width="1.0"/>
<line x1="109.22" y1="318.4" x2="110.72" y2="318.4" stroke="#363636" stroke-width="1.0"/>
<rect x="108.27" y="220" width="3.4" height="72.1" fill="#e1a93c" stroke="#363636" stroke-width="0.6"/>
<line x1="108.27" y1="256" x2="111.67" y2="256" stroke="#363636" stroke-width="0.5"/>
<line x1="113.32" y1="220" x2="113.32" y2="320" stroke="#8a8a8a" stroke-width="0.7"/>
<line x1="112.57" y1="220" x2="114.07" y2="220" stroke="#363636" stroke-width="1.0"/>
<line x1="112.57" y1="320" x2="114.07" y2="320" stroke="#363636" stroke-width="1.0"/>
<line x1="123" y1="220" x2="123" y2="275" stroke="#8a8a8a" stroke-width="1.05"/>
<line x1="122.25" y1="220" x2="123.75" y2="220" stroke="#363636" stroke-width="1.0"/>
<line x1="122.25" y1="275" x2="123.75" y2="275" stroke="#363636" stroke-width="1.0"/>
<rect x="121.3" y="225.2" width="3.4" height="27.5" fill="#3274a1" stroke="#363636" stroke-width="0.6"/>
<line x1="121.3" y1="240" x2="124.7" y2="240" stroke="#363636" stroke-width="0.5"/>
<line x1="126.35" y1="220" x2="126.35" y2="264.7" stroke="#8a8a8a" stroke-width="1.05"/>
<line x1="125.6" y1="220" x2="127.1" y2="220" stroke="#363636" stroke-width="1.0"/>
<line x1="125.6" y1="264.7" x2="127.1" y2="264.7" stroke="#363636" stroke-width="1.0"/>
<rect x="124.65" y="220" width="3.4" height="36.7" fill="#e1a93c" stroke="#363636" stroke-width="0.6"/>
<line x1="124.65" y1="222" x2="128.05" y2="222" stroke="#363636" stroke-width="0.5"/>
<line x1="129.7" y1="220" x2="129.7" y2="259.6" stroke="#8a8a8a" stroke-width="1.05"/>
<line x1="128.95" y1="220" x2="130.45" y2="220" stroke="#363636" stroke-width="1.0"/>
<line x1="128.95" y1="259.6" x2="130.45" y2="259.6" stroke="#363636" stroke-width="1.0"/>
<rect x="128" y="220" width="3.4" height="6" fill="#d2282b" stroke="#363636" stroke-width="0.6"/>
<line x1="128" y1="221" x2="131.4" y2="221" stroke="#363636" stroke-width="0.5"/>
<line x1="139.38" y1="253.3" x2="139.38" y2="304.1" stroke="#8a8a8a" stroke-width="1.05"/>
<line x1="138.63" y1="253.3" x2="140.13" y2="253.3" stroke="#363636" stroke-width="1.0"/>
<line x1="138.63" y1="304.1" x2="140.13" y2="304.1" stroke="#363636" stroke-width="1.0"/>
<rect x="137.68" y="258.9" width="3.4" height="31.6" fill="#3274a1" stroke="#363636" stroke-width="0.6"/>
<line x1="137.68" y1="286.7" x2="141.08" y2="286.7" stroke="#363636" stroke-width="0.5"/>
<line x1="142.73" y1="238.1" x2="142.73" y2="309" stroke="#8a8a8a" stroke-width="1.05"/>
<line x1="141.98" y1="238.1" x2="143.48" y2="238.1" stroke="#363636" stroke-width="1.0"/>
<line x1="141.98" y1="309" x2="143.48" y2="309" stroke="#363636" stroke-width="1.0"/>
<rect x="141.03" y="244.3" width="3.4" height="39" fill="#e1a93c" stroke="#363636" stroke-width="0.6"/>
<line x1="141.03" y1="277.1" x2="144.43" y2="277.1" stroke="#363636" stroke-width="0.5"/>
<line x1="146.08" y1="283.3" x2="146.08" y2="307.4" stroke="#8a8a8a" stroke-width="1.05"/>
<line x1="145.33" y1="283.3" x2="146.83" y2="283.3" stroke="#363636" stroke-width="1.0"/>
<line x1="145.33" y1="307.4" x2="146.83" y2="307.4" stroke="#363636" stroke-width="1.0"/>
<rect x="144.38" y="287.9" width="3.4" height="15.4" fill="#d2282b" stroke="#363636" stroke-width="0.6"/>
<line x1="144.38" y1="294" x2="147.78" y2="294" stroke="#363636" stroke-width="0.5"/>
<line x1="155.76" y1="250.4" x2="155.76" y2="300" stroke="#8a8a8a" stroke-width="1.05"/>
<line x1="155.01" y1="250.4" x2="156.51" y2="250.4" stroke="#363636" stroke-width="1.0"/>
<line x1="155.01" y1="300" x2="156.51" y2="300" stroke="#363636" stroke-width="1.0"/>
<rect x="154.06" y="263" width="3.4" height="24.9" fill="#3274a1" stroke="#363636" stroke-width="0.6"/>
<line x1="154.06" y1="286.7" x2="157.46" y2="286.7" stroke="#363636" stroke-width="0.5"/>
<line x1="159.11" y1="220" x2="159.11" y2="343.2" stroke="#8a8a8a" stroke-width="1.05"/>
<line x1="158.36" y1="220" x2="159.86" y2="220" stroke="#363636" stroke-width="1.0"/>
<line x1="158.36" y1="343.2" x2="159.86" y2="343.2" stroke="#363636" stroke-width="1.0"/>
<rect x="157.41" y="220" width="3.4" height="69" fill="#e1a93c" stroke="#363636" stroke-width="0.6"/>
<line x1="157.41" y1="226.2" x2="160.81" y2="226.2" stroke="#363636" stroke-width="0.5"/>
<line x1="162.46" y1="220" x2="162.46" y2="290.5" stroke="#8a8a8a" stroke-width="1.05"/>
<line x1="161.71" y1="220" x2="163.21" y2="220" stroke="#363636" stroke-width="1.0"/>
<line x1="161.71" y1="290.5" x2="163.21" y2="290.5" stroke="#363636" stroke-width="1.0"/>
<rect x="160.76" y="220" width="3.4" height="2.4" fill="#d2282b" stroke="#363636" stroke-width="0.6"/>
<line x1="160.76" y1="221" x2="164.16" y2="221" stroke="#363636" stroke-width="0.5"/>
<line x1="172.14" y1="227.1" x2="172.14" y2="306.9" stroke="#8a8a8a" stroke-width="1.05"/>
<line x1="171.39" y1="227.1" x2="172.89" y2="227.1" stroke="#363636" stroke-width="1.0"/>
<line x1="171.39" y1="306.9" x2="172.89" y2="306.9" stroke="#363636" stroke-width="1.0"/>
<rect x="170.44" y="287.5" width="3.4" height="10.7" fill="#3274a1" stroke="#363636" stroke-width="0.6"/>
<line x1="170.44" y1="295.2" x2="173.84" y2="295.2" stroke="#363636" stroke-width="0.5"/>
<line x1="175.49" y1="220" x2="175.49" y2="300" stroke="#8a8a8a" stroke-width="1.05"/>
<line x1="174.74" y1="220" x2="176.24" y2="220" stroke="#363636" stroke-width="1.0"/>
<line x1="174.74" y1="300" x2="176.24" y2="300" stroke="#363636" stroke-width="1.0"/>
<rect x="173.79" y="220" width="3.4" height="39.7" fill="#e1a93c" stroke="#363636" stroke-width="0.6"/>
<line x1="173.79" y1="230" x2="177.19" y2="230" stroke="#363636" stroke-width="0.5"/>
<line x1="178.84" y1="220" x2="178.84" y2="307.9" stroke="#8a8a8a" stroke-width="1.05"/>
<line x1="178.09" y1="220" x2="179.59" y2="220" stroke="#363636" stroke-width="1.0"/>
<line x1="178.09" y1="307.9" x2="179.59" y2="307.9" stroke="#363636" stroke-width="1.0"/>
<rect x="177.14" y="256" width="3.4" height="43" fill="#d2282b" stroke="#363636" stroke-width="0.6"/>
<line x1="177.14" y1="290" x2="180.54" y2="290" stroke="#363636" stroke-width="0.5"/>
<line x1="188.52" y1="261" x2="188.52" y2="293.6" stroke="#8a8a8a" stroke-width="1.05"/>
<line x1="187.77" y1="261" x2="189.27" y2="261" stroke="#363636" stroke-width="1.0"/>
<line x1="187.77" y1="293.6" x2="189.27" y2="293.6" stroke="#363636" stroke-width="1.0"/>
<rect x="186.82" y="262.5" width="3.4" height="20.3" fill="#3274a1" stroke="#363636" stroke-width="0.6"/>
<line x1="186.82" y1="275" x2="190.22" y2="275" stroke="#363636" stroke-width="0.5"/>
<line x1="191.87" y1="220" x2="191.87" y2="274.6" stroke="#8a8a8a" stroke-width="1.05"/>
<line x1="191.12" y1="220" x2="192.62" y2="220" stroke="#363636" stroke-width="1.0"/>
<line x1="191.12" y1="274.6" x2="192.62" y2="274.6" stroke="#363636" stroke-width="1.0"/>
<rect x="190.17" y="220" width="3.4" height="50.9" fill="#e1a93c" stroke="#363636" stroke-width="0.6"/>
<line x1="190.17" y1="260.6" x2="193.57" y2="260.6" stroke="#363636" stroke-width="0.5"/>
<line x1="195.22" y1="220" x2="195.22" y2="280.2" stroke="#8a8a8a" stroke-width="1.05"/>
<line x1="194.47" y1="220" x2="195.97" y2="220" stroke="#363636" stroke-width="1.0"/>
<line x1="194.47" y1="280.2" x2="195.97" y2="280.2" stroke="#363636" stroke-width="1.0"/>
<rect x="193.52" y="220" width="3.4" height="55.5" fill="#d2282b" stroke="#363636" stroke-width="0.6"/>
<line x1="193.52" y1="253.2" x2="196.92" y2="253.2" stroke="#363636" stroke-width="0.5"/>
<line x1="204.9" y1="276.2" x2="204.9" y2="306.8" stroke="#8a8a8a" stroke-width="1.05"/>
<line x1="204.15" y1="276.2" x2="205.65" y2="276.2" stroke="#363636" stroke-width="1.0"/>
<line x1="204.15" y1="306.8" x2="205.65" y2="306.8" stroke="#363636" stroke-width="1.0"/>
<rect x="203.2" y="282.8" width="3.4" height="17.8" fill="#3274a1" stroke="#363636" stroke-width="0.6"/>
<line x1="203.2" y1="292" x2="206.6" y2="292" stroke="#363636" stroke-width="0.5"/>
<line x1="208.25" y1="219.8" x2="208.25" y2="300" stroke="#8a8a8a" stroke-width="1.05"/>
<line x1="207.5" y1="219.8" x2="209" y2="219.8" stroke="#363636" stroke-width="1.0"/>
<line x1="207.5" y1="300" x2="209" y2="300" stroke="#363636" stroke-width="1.0"/>
<rect x="206.55" y="225.6" width="3.4" height="63.9" fill="#e1a93c" stroke="#363636" stroke-width="0.6"/>
<line x1="206.55" y1="286.8" x2="209.95" y2="286.8" stroke="#363636" stroke-width="0.5"/>
<line x1="211.6" y1="280.2" x2="211.6" y2="308.6" stroke="#8a8a8a" stroke-width="1.05"/>
<line x1="210.85" y1="280.2" x2="212.35" y2="280.2" stroke="#363636" stroke-width="1.0"/>
<line x1="210.85" y1="308.6" x2="212.35" y2="308.6" stroke="#363636" stroke-width="1.0"/>
<rect x="209.9" y="285.5" width="3.4" height="10.6" fill="#d2282b" stroke="#363636" stroke-width="0.6"/>
<line x1="209.9" y1="290" x2="213.3" y2="290" stroke="#363636" stroke-width="0.5"/>
<line x1="221.28" y1="220.3" x2="221.28" y2="269.5" stroke="#8a8a8a" stroke-width="1.05"/>
<line x1="220.53" y1="220.3" x2="222.03" y2="220.3" stroke="#363636" stroke-width="1.0"/>
<line x1="220.53" y1="269.5" x2="222.03" y2="269.5" stroke="#363636" stroke-width="1.0"/>
<rect x="219.58" y="239.5" width="3.4" height="9.5" fill="#3274a1" stroke="#363636" stroke-width="0.6"/>
<line x1="219.58" y1="245" x2="222.98" y2="245" stroke="#363636" stroke-width="0.5"/>
<line x1="224.63" y1="220" x2="224.63" y2="268.2" stroke="#8a8a8a" stroke-width="1.05"/>
<line x1="223.88" y1="220" x2="225.38" y2="220" stroke="#363636" stroke-width="1.0"/>
<line x1="223.88" y1="268.2" x2="225.38" y2="268.2" stroke="#363636" stroke-width="1.0"/>
<rect x="222.93" y="220" width="3.4" height="29.6" fill="#e1a93c" stroke="#363636" stroke-width="0.6"/>
<line x1="222.93" y1="222" x2="226.33" y2="222" stroke="#363636" stroke-width="0.5"/>
<line x1="227.98" y1="220" x2="227.98" y2="259.7" stroke="#8a8a8a" stroke-width="1.05"/>
<line x1="227.23" y1="220" x2="228.73" y2="220" stroke="#363636" stroke-width="1.0"/>
<line x1="227.23" y1="259.7" x2="228.73" y2="259.7" stroke="#363636" stroke-width="1.0"/>
<rect x="226.28" y="220" width="3.4" height="29" fill="#d2282b" stroke="#363636" stroke-width="0.6"/>
<line x1="226.28" y1="222" x2="229.68" y2="222" stroke="#363636" stroke-width="0.5"/>
<line x1="237.66" y1="268" x2="237.66" y2="292.7" stroke="#8a8a8a" stroke-width="1.05"/>
<line x1="236.91" y1="268" x2="238.41" y2="268" stroke="#363636" stroke-width="1.0"/>
<line x1="236.91" y1="292.7" x2="238.41" y2="292.7" stroke="#363636" stroke-width="1.0"/>
<rect x="235.96" y="271.4" width="3.4" height="6.9" fill="#3274a1" stroke="#363636" stroke-width="0.6"/>
<line x1="235.96" y1="276" x2="239.36" y2="276" stroke="#363636" stroke-width="0.5"/>
<line x1="241.01" y1="240.3" x2="241.01" y2="304.1" stroke="#8a8a8a" stroke-width="1.05"/>
<line x1="240.26" y1="240.3" x2="241.76" y2="240.3" stroke="#363636" stroke-width="1.0"/>
<line x1="240.26" y1="304.1" x2="241.76" y2="304.1" stroke="#363636" stroke-width="1.0"/>
<rect x="239.31" y="246.4" width="3.4" height="37.2" fill="#e1a93c" stroke="#363636" stroke-width="0.6"/>
<line x1="239.31" y1="277.5" x2="242.71" y2="277.5" stroke="#363636" stroke-width="0.5"/>
<line x1="244.36" y1="259.3" x2="244.36" y2="309.4" stroke="#8a8a8a" stroke-width="1.05"/>
<line x1="243.61" y1="259.3" x2="245.11" y2="259.3" stroke="#363636" stroke-width="1.0"/>
<line x1="243.61" y1="309.4" x2="245.11" y2="309.4" stroke="#363636" stroke-width="1.0"/>
<rect x="242.66" y="260.2" width="3.4" height="8" fill="#d2282b" stroke="#363636" stroke-width="0.6"/>
<line x1="242.66" y1="265" x2="246.06" y2="265" stroke="#363636" stroke-width="0.5"/>
<ellipse cx="254.04" cy="303.6" rx="1.45" ry="1.9" fill="#3274a1" stroke="#333" stroke-width="0.8"/>
<line x1="252.74" y1="303.6" x2="255.34" y2="303.6" stroke="#333" stroke-width="0.6"/>
<ellipse cx="257.39" cy="313.5" rx="1.45" ry="1.9" fill="#e1a93c" stroke="#333" stroke-width="0.8"/>
<line x1="256.09" y1="313.5" x2="258.69" y2="313.5" stroke="#333" stroke-width="0.6"/>
<ellipse cx="260.74" cy="307.4" rx="1.45" ry="1.9" fill="#d2282b" stroke="#333" stroke-width="0.8"/>
<line x1="259.44" y1="307.4" x2="262.04" y2="307.4" stroke="#333" stroke-width="0.6"/>
<line x1="270.42" y1="220" x2="270.42" y2="299.3" stroke="#8a8a8a" stroke-width="1.05"/>
<line x1="269.67" y1="220" x2="271.17" y2="220" stroke="#363636" stroke-width="1.0"/>
<line x1="269.67" y1="299.3" x2="271.17" y2="299.3" stroke="#363636" stroke-width="1.0"/>
<rect x="268.72" y="231.1" width="3.4" height="21.2" fill="#3274a1" stroke="#363636" stroke-width="0.6"/>
<line x1="268.72" y1="247.9" x2="272.12" y2="247.9" stroke="#363636" stroke-width="0.5"/>
<line x1="273.77" y1="220" x2="273.77" y2="284.1" stroke="#8a8a8a" stroke-width="1.05"/>
<line x1="273.02" y1="220" x2="274.52" y2="220" stroke="#363636" stroke-width="1.0"/>
<line x1="273.02" y1="284.1" x2="274.52" y2="284.1" stroke="#363636" stroke-width="1.0"/>
<rect x="272.07" y="220" width="3.4" height="19.9" fill="#e1a93c" stroke="#363636" stroke-width="0.6"/>
<line x1="272.07" y1="225.2" x2="275.47" y2="225.2" stroke="#363636" stroke-width="0.5"/>
<line x1="277.12" y1="220" x2="277.12" y2="245.7" stroke="#8a8a8a" stroke-width="1.05"/>
<line x1="276.37" y1="220" x2="277.87" y2="220" stroke="#363636" stroke-width="1.0"/>
<line x1="276.37" y1="245.7" x2="277.87" y2="245.7" stroke="#363636" stroke-width="1.0"/>
<rect x="275.42" y="220" width="3.4" height="25.7" fill="#d2282b" stroke="#363636" stroke-width="0.6"/>
<line x1="275.42" y1="222" x2="278.82" y2="222" stroke="#363636" stroke-width="0.5"/>
<line x1="286.8" y1="220" x2="286.8" y2="287.3" stroke="#8a8a8a" stroke-width="1.05"/>
<line x1="286.05" y1="220" x2="287.55" y2="220" stroke="#363636" stroke-width="1.0"/>
<line x1="286.05" y1="287.3" x2="287.55" y2="287.3" stroke="#363636" stroke-width="1.0"/>
<rect x="285.1" y="258.2" width="3.4" height="18.8" fill="#3274a1" stroke="#363636" stroke-width="0.6"/>
<line x1="285.1" y1="265.9" x2="288.5" y2="265.9" stroke="#363636" stroke-width="0.5"/>
<line x1="290.15" y1="220" x2="290.15" y2="288.9" stroke="#8a8a8a" stroke-width="1.05"/>
<line x1="289.4" y1="220" x2="290.9" y2="220" stroke="#363636" stroke-width="1.0"/>
<line x1="289.4" y1="288.9" x2="290.9" y2="288.9" stroke="#363636" stroke-width="1.0"/>
<rect x="288.45" y="222.3" width="3.4" height="53.1" fill="#e1a93c" stroke="#363636" stroke-width="0.6"/>
<line x1="288.45" y1="261.1" x2="291.85" y2="261.1" stroke="#363636" stroke-width="0.5"/>
<line x1="293.5" y1="220" x2="293.5" y2="277.4" stroke="#8a8a8a" stroke-width="1.05"/>
<line x1="292.75" y1="220" x2="294.25" y2="220" stroke="#363636" stroke-width="1.0"/>
<line x1="292.75" y1="277.4" x2="294.25" y2="277.4" stroke="#363636" stroke-width="1.0"/>
<rect x="291.8" y="222.3" width="3.4" height="43.9" fill="#d2282b" stroke="#363636" stroke-width="0.6"/>
<line x1="291.8" y1="257.4" x2="295.2" y2="257.4" stroke="#363636" stroke-width="0.5"/>
<line x1="303.18" y1="246.3" x2="303.18" y2="325" stroke="#8a8a8a" stroke-width="1.05"/>
<line x1="302.43" y1="246.3" x2="303.93" y2="246.3" stroke="#363636" stroke-width="1.0"/>
<line x1="302.43" y1="325" x2="303.93" y2="325" stroke="#363636" stroke-width="1.0"/>
<rect x="301.48" y="292" width="3.4" height="17.9" fill="#3274a1" stroke="#363636" stroke-width="0.6"/>
<line x1="301.48" y1="300" x2="304.88" y2="300" stroke="#363636" stroke-width="0.5"/>
<line x1="306.53" y1="256.2" x2="306.53" y2="333.3" stroke="#8a8a8a" stroke-width="1.05"/>
<line x1="305.78" y1="256.2" x2="307.28" y2="256.2" stroke="#363636" stroke-width="1.0"/>
<line x1="305.78" y1="333.3" x2="307.28" y2="333.3" stroke="#363636" stroke-width="1.0"/>
<rect x="304.83" y="287" width="3.4" height="28.7" fill="#e1a93c" stroke="#363636" stroke-width="0.6"/>
<line x1="304.83" y1="307" x2="308.23" y2="307" stroke="#363636" stroke-width="0.5"/>
<line x1="309.88" y1="220" x2="309.88" y2="323.4" stroke="#8a8a8a" stroke-width="1.05"/>
<line x1="309.13" y1="220" x2="310.63" y2="220" stroke="#363636" stroke-width="1.0"/>
<line x1="309.13" y1="323.4" x2="310.63" y2="323.4" stroke="#363636" stroke-width="1.0"/>
<rect x="308.18" y="283.6" width="3.4" height="32.1" fill="#d2282b" stroke="#363636" stroke-width="0.6"/>
<line x1="308.18" y1="307" x2="311.58" y2="307" stroke="#363636" stroke-width="0.5"/>
<line x1="319.56" y1="220" x2="319.56" y2="266" stroke="#8a8a8a" stroke-width="1.05"/>
<line x1="318.81" y1="220" x2="320.31" y2="220" stroke="#363636" stroke-width="1.0"/>
<line x1="318.81" y1="266" x2="320.31" y2="266" stroke="#363636" stroke-width="1.0"/>
<rect x="317.86" y="220.1" width="3.4" height="11.6" fill="#3274a1" stroke="#363636" stroke-width="0.6"/>
<line x1="317.86" y1="225" x2="321.26" y2="225" stroke="#363636" stroke-width="0.5"/>
<line x1="322.91" y1="220" x2="322.91" y2="265.7" stroke="#8a8a8a" stroke-width="1.05"/>
<line x1="322.16" y1="220" x2="323.66" y2="220" stroke="#363636" stroke-width="1.0"/>
<line x1="322.16" y1="265.7" x2="323.66" y2="265.7" stroke="#363636" stroke-width="1.0"/>
<rect x="321.21" y="220" width="3.4" height="34" fill="#e1a93c" stroke="#363636" stroke-width="0.6"/>
<line x1="321.21" y1="225.4" x2="324.61" y2="225.4" stroke="#363636" stroke-width="0.5"/>
<line x1="326.26" y1="220" x2="326.26" y2="264.8" stroke="#8a8a8a" stroke-width="1.05"/>
<line x1="325.51" y1="220" x2="327.01" y2="220" stroke="#363636" stroke-width="1.0"/>
<line x1="325.51" y1="264.8" x2="327.01" y2="264.8" stroke="#363636" stroke-width="1.0"/>
<rect x="324.56" y="220.1" width="3.4" height="11.6" fill="#d2282b" stroke="#363636" stroke-width="0.6"/>
<line x1="324.56" y1="225" x2="327.96" y2="225" stroke="#363636" stroke-width="0.5"/>
<line x1="335.94" y1="220" x2="335.94" y2="253.6" stroke="#8a8a8a" stroke-width="1.05"/>
<line x1="335.19" y1="220" x2="336.69" y2="220" stroke="#363636" stroke-width="1.0"/>
<line x1="335.19" y1="253.6" x2="336.69" y2="253.6" stroke="#363636" stroke-width="1.0"/>
<rect x="334.24" y="226.2" width="3.4" height="14" fill="#3274a1" stroke="#363636" stroke-width="0.6"/>
<line x1="334.24" y1="233" x2="337.64" y2="233" stroke="#363636" stroke-width="0.5"/>
<line x1="339.29" y1="220" x2="339.29" y2="248.5" stroke="#8a8a8a" stroke-width="1.05"/>
<line x1="338.54" y1="220" x2="340.04" y2="220" stroke="#363636" stroke-width="1.0"/>
<line x1="338.54" y1="248.5" x2="340.04" y2="248.5" stroke="#363636" stroke-width="1.0"/>
<rect x="337.59" y="220" width="3.4" height="14.9" fill="#e1a93c" stroke="#363636" stroke-width="0.6"/>
<line x1="337.59" y1="221.4" x2="340.99" y2="221.4" stroke="#363636" stroke-width="0.5"/>
<line x1="342.64" y1="220" x2="342.64" y2="267.6" stroke="#8a8a8a" stroke-width="1.05"/>
<line x1="341.89" y1="220" x2="343.39" y2="220" stroke="#363636" stroke-width="1.0"/>
<line x1="341.89" y1="267.6" x2="343.39" y2="267.6" stroke="#363636" stroke-width="1.0"/>
<rect x="340.94" y="220" width="3.4" height="25.3" fill="#d2282b" stroke="#363636" stroke-width="0.6"/>
<line x1="340.94" y1="225" x2="344.34" y2="225" stroke="#363636" stroke-width="0.5"/>
<path d="M54.5 210.2 V207.8 H64 V210.2" fill="none" stroke="#111" stroke-width="0.85"/>
<circle cx="52.6" cy="204.1" r="1.05" fill="#111"/>
<circle cx="55.7" cy="204.1" r="1.05" fill="#111"/>
<circle cx="58.8" cy="204.1" r="1.05" fill="#111"/>
<circle cx="61.9" cy="204.1" r="1.05" fill="#111"/>
<path d="M86.2 209.9 V207.6 H95.7 V209.9" fill="none" stroke="#111" stroke-width="0.85"/>
<circle cx="84.3" cy="204.2" r="1.05" fill="#111"/>
<circle cx="87.4" cy="204.2" r="1.05" fill="#111"/>
<circle cx="90.4" cy="204.2" r="1.05" fill="#111"/>
<circle cx="93.6" cy="204.2" r="1.05" fill="#111"/>
<path d="M103.3 209.8 V207.6 H113.5 V209.8" fill="none" stroke="#111" stroke-width="0.85"/>
<circle cx="101.8" cy="204.4" r="1.05" fill="#111"/>
<circle cx="104.9" cy="204.4" r="1.05" fill="#111"/>
<circle cx="108" cy="204.4" r="1.05" fill="#111"/>
<circle cx="111.1" cy="204.4" r="1.05" fill="#111"/>
<path d="M104.6 217.1 V215.1 H111 V217.1" fill="none" stroke="#111" stroke-width="0.85"/>
<circle cx="102.3" cy="212.4" r="0.95" fill="#111"/>
<circle cx="104.8" cy="212.4" r="0.95" fill="#111"/>
<circle cx="107.3" cy="212.4" r="0.95" fill="#111"/>
<circle cx="109.6" cy="212.4" r="0.95" fill="#111"/>
<path d="M169.2 218.1 V215.8 H175.6 V218.1" fill="none" stroke="#111" stroke-width="0.85"/>
<circle cx="168.2" cy="213.2" r="0.95" fill="#111"/>
<circle cx="170.7" cy="213.2" r="0.95" fill="#111"/>
<circle cx="173.4" cy="213.2" r="0.95" fill="#111"/>
<rect x="36.4" y="184.5" width="310.9" height="176.6" fill="none" stroke="#626262" stroke-width="1.0"/>
<line x1="44.45" y1="361.1" x2="44.45" y2="362.7" stroke="#555555" stroke-width="0.5"/>
<text class="t" x="44.45" y="367.7" font-size="4.7" text-anchor="middle" font-weight="normal" fill="#222" >1</text>
<line x1="60.83" y1="361.1" x2="60.83" y2="362.7" stroke="#555555" stroke-width="0.5"/>
<text class="t" x="60.83" y="367.7" font-size="4.7" text-anchor="middle" font-weight="normal" fill="#222" >2a</text>
<line x1="77.21" y1="361.1" x2="77.21" y2="362.7" stroke="#555555" stroke-width="0.5"/>
<text class="t" x="77.21" y="367.7" font-size="4.7" text-anchor="middle" font-weight="normal" fill="#222" >2b</text>
<line x1="93.59" y1="361.1" x2="93.59" y2="362.7" stroke="#555555" stroke-width="0.5"/>
<text class="t" x="93.59" y="367.7" font-size="4.7" text-anchor="middle" font-weight="normal" fill="#222" >2c</text>
<line x1="109.97" y1="361.1" x2="109.97" y2="362.7" stroke="#555555" stroke-width="0.5"/>
<text class="t" x="109.97" y="367.7" font-size="4.7" text-anchor="middle" font-weight="normal" fill="#222" >2d</text>
<line x1="126.35" y1="361.1" x2="126.35" y2="362.7" stroke="#555555" stroke-width="0.5"/>
<text class="t" x="126.35" y="367.7" font-size="4.7" text-anchor="middle" font-weight="normal" fill="#222" >3a</text>
<line x1="142.73" y1="361.1" x2="142.73" y2="362.7" stroke="#555555" stroke-width="0.5"/>
<text class="t" x="142.73" y="367.7" font-size="4.7" text-anchor="middle" font-weight="normal" fill="#222" >3b</text>
<line x1="159.11" y1="361.1" x2="159.11" y2="362.7" stroke="#555555" stroke-width="0.5"/>
<text class="t" x="159.11" y="367.7" font-size="4.7" text-anchor="middle" font-weight="normal" fill="#222" >4a</text>
<line x1="175.49" y1="361.1" x2="175.49" y2="362.7" stroke="#555555" stroke-width="0.5"/>
<text class="t" x="175.49" y="367.7" font-size="4.7" text-anchor="middle" font-weight="normal" fill="#222" >4b</text>
<line x1="191.87" y1="361.1" x2="191.87" y2="362.7" stroke="#555555" stroke-width="0.5"/>
<text class="t" x="191.87" y="367.7" font-size="4.7" text-anchor="middle" font-weight="normal" fill="#222" >4c</text>
<line x1="208.25" y1="361.1" x2="208.25" y2="362.7" stroke="#555555" stroke-width="0.5"/>
<text class="t" x="208.25" y="367.7" font-size="4.7" text-anchor="middle" font-weight="normal" fill="#222" >5a</text>
<line x1="224.63" y1="361.1" x2="224.63" y2="362.7" stroke="#555555" stroke-width="0.5"/>
<text class="t" x="224.63" y="367.7" font-size="4.7" text-anchor="middle" font-weight="normal" fill="#222" >5b</text>
<line x1="241.01" y1="361.1" x2="241.01" y2="362.7" stroke="#555555" stroke-width="0.5"/>
<text class="t" x="241.01" y="367.7" font-size="4.7" text-anchor="middle" font-weight="normal" fill="#222" >5c</text>
<line x1="257.39" y1="361.1" x2="257.39" y2="362.7" stroke="#555555" stroke-width="0.5"/>
<text class="t" x="257.39" y="367.7" font-size="4.7" text-anchor="middle" font-weight="normal" fill="#222" >5d</text>
<line x1="273.77" y1="361.1" x2="273.77" y2="362.7" stroke="#555555" stroke-width="0.5"/>
<text class="t" x="273.77" y="367.7" font-size="4.7" text-anchor="middle" font-weight="normal" fill="#222" >6a</text>
<line x1="290.15" y1="361.1" x2="290.15" y2="362.7" stroke="#555555" stroke-width="0.5"/>
<text class="t" x="290.15" y="367.7" font-size="4.7" text-anchor="middle" font-weight="normal" fill="#222" >6b</text>
<line x1="306.53" y1="361.1" x2="306.53" y2="362.7" stroke="#555555" stroke-width="0.5"/>
<text class="t" x="306.53" y="367.7" font-size="4.7" text-anchor="middle" font-weight="normal" fill="#222" >7a</text>
<line x1="322.91" y1="361.1" x2="322.91" y2="362.7" stroke="#555555" stroke-width="0.5"/>
<text class="t" x="322.91" y="367.7" font-size="4.7" text-anchor="middle" font-weight="normal" fill="#222" >7b</text>
<line x1="339.29" y1="361.1" x2="339.29" y2="362.7" stroke="#555555" stroke-width="0.5"/>
<text class="t" x="339.29" y="367.7" font-size="4.7" text-anchor="middle" font-weight="normal" fill="#222" >7c</text>
<text class="t" x="192.65" y="372.8" font-size="4.6" text-anchor="middle" font-weight="normal" fill="#222" >Epitope Location</text>
<text class="t" x="0" y="0" font-size="7.0" text-anchor="middle" fill="#2a2a2a" transform="translate(23.0,272.8) rotate(-90)">IC<tspan font-size="4" dy="1.2">50</tspan><tspan dy="-1.2">  (ng/mL), Pseudovirus neutralization</tspan></text>
<rect x="320.4" y="186.6" width="26.4" height="25" fill="#fff" stroke="#d8d8d8" stroke-width="0.5" rx="0.8"/>
<text class="t" x="333" y="191.3" font-size="4.4" text-anchor="middle" font-weight="normal" fill="#2a2a2a" >Variant</text>
<rect x="322" y="194.5" width="7.6" height="2.8" fill="#3274a1" stroke="#363636" stroke-width="0.4"/>
<text class="t" x="332.8" y="197.3" font-size="4.3" text-anchor="start" font-weight="normal" fill="#2a2a2a" >D614</text>
<rect x="322" y="200.45" width="7.6" height="2.8" fill="#e1a93c" stroke="#363636" stroke-width="0.4"/>
<text class="t" x="332.8" y="203.25" font-size="4.3" text-anchor="start" font-weight="normal" fill="#2a2a2a" >Delta</text>
<rect x="322" y="206.4" width="7.6" height="2.8" fill="#d2282b" stroke="#363636" stroke-width="0.4"/>
<text class="t" x="332.8" y="209.2" font-size="4.3" text-anchor="start" font-weight="normal" fill="#2a2a2a" >Beta</text>
<text x="4.8" y="187.3" font-size="10.6" text-anchor="start" font-weight="bold" fill="#111" >(C)</text>
</svg>
</body></html>
